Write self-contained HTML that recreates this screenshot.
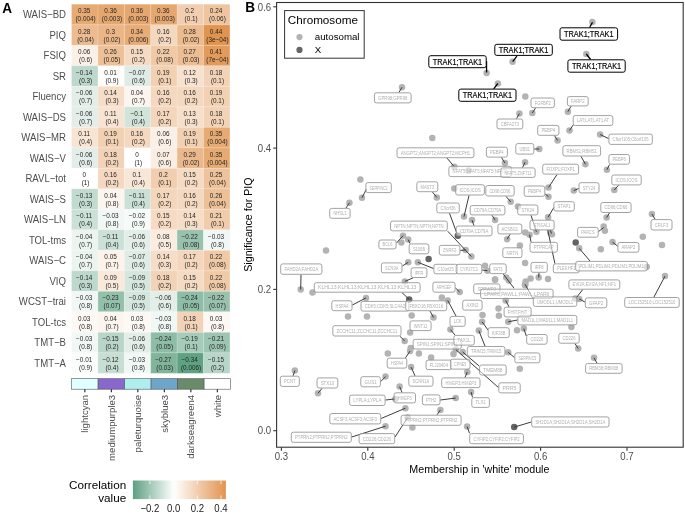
<!DOCTYPE html><html><head><meta charset="utf-8"><style>html,body{margin:0;padding:0;background:#fff;width:685px;height:514px;overflow:hidden}svg{display:block;will-change:transform}text{font-family:'Liberation Sans',sans-serif}</style></head><body>
<svg width="685" height="514" viewBox="0 0 685 514">
<rect width="685" height="514" fill="#fff"/>
<text transform="translate(2.3,12.6) scale(1,1.1)" font-size="13.6" font-weight="bold" fill="#000">A</text>
<rect x="71.60" y="4.30" width="26.37" height="20.50" fill="#E7AA73"/>
<rect x="97.97" y="4.30" width="26.37" height="20.50" fill="#E6A76F"/>
<rect x="124.34" y="4.30" width="26.37" height="20.50" fill="#E6A76F"/>
<rect x="150.71" y="4.30" width="26.37" height="20.50" fill="#E6A76F"/>
<rect x="177.08" y="4.30" width="26.37" height="20.50" fill="#F1CEAF"/>
<rect x="203.45" y="4.30" width="26.37" height="20.50" fill="#EFC59F"/>
<rect x="71.60" y="24.80" width="26.37" height="20.50" fill="#ECBB8F"/>
<rect x="97.97" y="24.80" width="26.37" height="20.50" fill="#EBB687"/>
<rect x="124.34" y="24.80" width="26.37" height="20.50" fill="#E8AC77"/>
<rect x="150.71" y="24.80" width="26.37" height="20.50" fill="#F4D8BF"/>
<rect x="177.08" y="24.80" width="26.37" height="20.50" fill="#ECBB8F"/>
<rect x="203.45" y="24.80" width="26.37" height="20.50" fill="#E1944F"/>
<rect x="71.60" y="45.30" width="26.37" height="20.50" fill="#FBF0E7"/>
<rect x="97.97" y="45.30" width="26.37" height="20.50" fill="#EDC097"/>
<rect x="124.34" y="45.30" width="26.37" height="20.50" fill="#F5DBC3"/>
<rect x="150.71" y="45.30" width="26.37" height="20.50" fill="#F0CAA7"/>
<rect x="177.08" y="45.30" width="26.37" height="20.50" fill="#EDBD93"/>
<rect x="203.45" y="45.30" width="26.37" height="20.50" fill="#E39B5B"/>
<rect x="71.60" y="65.80" width="26.37" height="20.50" fill="#BDD8CC"/>
<rect x="97.97" y="65.80" width="26.37" height="20.50" fill="#FEFDFB"/>
<rect x="124.34" y="65.80" width="26.37" height="20.50" fill="#DEECE5"/>
<rect x="150.71" y="65.80" width="26.37" height="20.50" fill="#F2D1B3"/>
<rect x="177.08" y="65.80" width="26.37" height="20.50" fill="#F7E2CF"/>
<rect x="203.45" y="65.80" width="26.37" height="20.50" fill="#F3D3B7"/>
<rect x="71.60" y="86.30" width="26.37" height="20.50" fill="#E3EEE9"/>
<rect x="97.97" y="86.30" width="26.37" height="20.50" fill="#F5DDC7"/>
<rect x="124.34" y="86.30" width="26.37" height="20.50" fill="#FCF5EF"/>
<rect x="150.71" y="86.30" width="26.37" height="20.50" fill="#F4D8BF"/>
<rect x="177.08" y="86.30" width="26.37" height="20.50" fill="#F4D8BF"/>
<rect x="203.45" y="86.30" width="26.37" height="20.50" fill="#F2D1B3"/>
<rect x="71.60" y="106.80" width="26.37" height="20.50" fill="#E3EEE9"/>
<rect x="97.97" y="106.80" width="26.37" height="20.50" fill="#F8E4D3"/>
<rect x="124.34" y="106.80" width="26.37" height="20.50" fill="#D0E4DA"/>
<rect x="150.71" y="106.80" width="26.37" height="20.50" fill="#F3D6BB"/>
<rect x="177.08" y="106.80" width="26.37" height="20.50" fill="#F6DFCB"/>
<rect x="203.45" y="106.80" width="26.37" height="20.50" fill="#F3D3B7"/>
<rect x="71.60" y="127.30" width="26.37" height="20.50" fill="#F8E4D3"/>
<rect x="97.97" y="127.30" width="26.37" height="20.50" fill="#F2D1B3"/>
<rect x="124.34" y="127.30" width="26.37" height="20.50" fill="#F4D8BF"/>
<rect x="150.71" y="127.30" width="26.37" height="20.50" fill="#FBF0E7"/>
<rect x="177.08" y="127.30" width="26.37" height="20.50" fill="#F2D1B3"/>
<rect x="203.45" y="127.30" width="26.37" height="20.50" fill="#E7AA73"/>
<rect x="71.60" y="147.80" width="26.37" height="20.50" fill="#E3EEE9"/>
<rect x="97.97" y="147.80" width="26.37" height="20.50" fill="#F3D3B7"/>
<rect x="124.34" y="147.80" width="26.37" height="20.50" fill="#FFFFFF"/>
<rect x="150.71" y="147.80" width="26.37" height="20.50" fill="#FAEEE3"/>
<rect x="177.08" y="147.80" width="26.37" height="20.50" fill="#EBB88B"/>
<rect x="203.45" y="147.80" width="26.37" height="20.50" fill="#E7AA73"/>
<rect x="71.60" y="168.30" width="26.37" height="20.50" fill="#FFFFFF"/>
<rect x="97.97" y="168.30" width="26.37" height="20.50" fill="#F4D8BF"/>
<rect x="124.34" y="168.30" width="26.37" height="20.50" fill="#F8E7D7"/>
<rect x="150.71" y="168.30" width="26.37" height="20.50" fill="#F1CEAF"/>
<rect x="177.08" y="168.30" width="26.37" height="20.50" fill="#F5DBC3"/>
<rect x="203.45" y="168.30" width="26.37" height="20.50" fill="#EEC29B"/>
<rect x="71.60" y="188.80" width="26.37" height="20.50" fill="#C2DBCF"/>
<rect x="97.97" y="188.80" width="26.37" height="20.50" fill="#FCF5EF"/>
<rect x="124.34" y="188.80" width="26.37" height="20.50" fill="#CBE1D7"/>
<rect x="150.71" y="188.80" width="26.37" height="20.50" fill="#F3D6BB"/>
<rect x="177.08" y="188.80" width="26.37" height="20.50" fill="#F4D8BF"/>
<rect x="203.45" y="188.80" width="26.37" height="20.50" fill="#EDC097"/>
<rect x="71.60" y="209.30" width="26.37" height="20.50" fill="#CBE1D7"/>
<rect x="97.97" y="209.30" width="26.37" height="20.50" fill="#F1F7F4"/>
<rect x="124.34" y="209.30" width="26.37" height="20.50" fill="#F6FAF8"/>
<rect x="150.71" y="209.30" width="26.37" height="20.50" fill="#F5DBC3"/>
<rect x="177.08" y="209.30" width="26.37" height="20.50" fill="#F5DDC7"/>
<rect x="203.45" y="209.30" width="26.37" height="20.50" fill="#F1CCAB"/>
<rect x="71.60" y="229.80" width="26.37" height="20.50" fill="#ECF4F0"/>
<rect x="97.97" y="229.80" width="26.37" height="20.50" fill="#CBE1D7"/>
<rect x="124.34" y="229.80" width="26.37" height="20.50" fill="#E3EEE9"/>
<rect x="150.71" y="229.80" width="26.37" height="20.50" fill="#FAECDF"/>
<rect x="177.08" y="229.80" width="26.37" height="20.50" fill="#98C2AE"/>
<rect x="203.45" y="229.80" width="26.37" height="20.50" fill="#F1F7F4"/>
<rect x="71.60" y="250.30" width="26.37" height="20.50" fill="#ECF4F0"/>
<rect x="97.97" y="250.30" width="26.37" height="20.50" fill="#FCF3EB"/>
<rect x="124.34" y="250.30" width="26.37" height="20.50" fill="#DEECE5"/>
<rect x="150.71" y="250.30" width="26.37" height="20.50" fill="#F5DDC7"/>
<rect x="177.08" y="250.30" width="26.37" height="20.50" fill="#F3D6BB"/>
<rect x="203.45" y="250.30" width="26.37" height="20.50" fill="#F0CAA7"/>
<rect x="71.60" y="270.80" width="26.37" height="20.50" fill="#BDD8CC"/>
<rect x="97.97" y="270.80" width="26.37" height="20.50" fill="#F9E9DB"/>
<rect x="124.34" y="270.80" width="26.37" height="20.50" fill="#D5E6DE"/>
<rect x="150.71" y="270.80" width="26.37" height="20.50" fill="#F3D3B7"/>
<rect x="177.08" y="270.80" width="26.37" height="20.50" fill="#F5DBC3"/>
<rect x="203.45" y="270.80" width="26.37" height="20.50" fill="#F0CAA7"/>
<rect x="71.60" y="291.30" width="26.37" height="20.50" fill="#F1F7F4"/>
<rect x="97.97" y="291.30" width="26.37" height="20.50" fill="#93C0AB"/>
<rect x="124.34" y="291.30" width="26.37" height="20.50" fill="#D5E6DE"/>
<rect x="150.71" y="291.30" width="26.37" height="20.50" fill="#E3EEE9"/>
<rect x="177.08" y="291.30" width="26.37" height="20.50" fill="#8EBDA7"/>
<rect x="203.45" y="291.30" width="26.37" height="20.50" fill="#98C2AE"/>
<rect x="71.60" y="311.80" width="26.37" height="20.50" fill="#FDF8F3"/>
<rect x="97.97" y="311.80" width="26.37" height="20.50" fill="#FCF5EF"/>
<rect x="124.34" y="311.80" width="26.37" height="20.50" fill="#FDF8F3"/>
<rect x="150.71" y="311.80" width="26.37" height="20.50" fill="#F1F7F4"/>
<rect x="177.08" y="311.80" width="26.37" height="20.50" fill="#F3D3B7"/>
<rect x="203.45" y="311.80" width="26.37" height="20.50" fill="#FDF8F3"/>
<rect x="71.60" y="332.30" width="26.37" height="20.50" fill="#F1F7F4"/>
<rect x="97.97" y="332.30" width="26.37" height="20.50" fill="#B8D6C8"/>
<rect x="124.34" y="332.30" width="26.37" height="20.50" fill="#E3EEE9"/>
<rect x="150.71" y="332.30" width="26.37" height="20.50" fill="#8EBDA7"/>
<rect x="177.08" y="332.30" width="26.37" height="20.50" fill="#A6CBB9"/>
<rect x="203.45" y="332.30" width="26.37" height="20.50" fill="#9CC5B2"/>
<rect x="71.60" y="352.80" width="26.37" height="20.50" fill="#FAFCFB"/>
<rect x="97.97" y="352.80" width="26.37" height="20.50" fill="#C7DED3"/>
<rect x="124.34" y="352.80" width="26.37" height="20.50" fill="#F1F7F4"/>
<rect x="150.71" y="352.80" width="26.37" height="20.50" fill="#80B59C"/>
<rect x="177.08" y="352.80" width="26.37" height="20.50" fill="#5FA283"/>
<rect x="203.45" y="352.80" width="26.37" height="20.50" fill="#B8D6C8"/>
<text transform="translate(84.19,13.00) scale(1,1)" font-size="6.4" fill="#262626" text-anchor="middle">0.35</text>
<text transform="translate(85.58,21.35) scale(1,1)" font-size="6.4" fill="#262626" text-anchor="middle">(0.004)</text>
<text transform="translate(110.56,13.00) scale(1,1)" font-size="6.4" fill="#262626" text-anchor="middle">0.36</text>
<text transform="translate(111.95,21.35) scale(1,1)" font-size="6.4" fill="#262626" text-anchor="middle">(0.003)</text>
<text transform="translate(136.93,13.00) scale(1,1)" font-size="6.4" fill="#262626" text-anchor="middle">0.36</text>
<text transform="translate(138.33,21.35) scale(1,1)" font-size="6.4" fill="#262626" text-anchor="middle">(0.003)</text>
<text transform="translate(163.29,13.00) scale(1,1)" font-size="6.4" fill="#262626" text-anchor="middle">0.36</text>
<text transform="translate(164.69,21.35) scale(1,1)" font-size="6.4" fill="#262626" text-anchor="middle">(0.003)</text>
<text transform="translate(189.66,13.00) scale(1,1)" font-size="6.4" fill="#262626" text-anchor="middle">0.2</text>
<text transform="translate(191.06,21.35) scale(1,1)" font-size="6.4" fill="#262626" text-anchor="middle">(0.1)</text>
<text transform="translate(216.03,13.00) scale(1,1)" font-size="6.4" fill="#262626" text-anchor="middle">0.24</text>
<text transform="translate(217.44,21.35) scale(1,1)" font-size="6.4" fill="#262626" text-anchor="middle">(0.06)</text>
<text transform="translate(66,18.05) scale(1,1.09)" font-size="9.6" fill="#4d4d4d" text-anchor="end">WAIS−BD</text>
<text transform="translate(84.19,33.50) scale(1,1)" font-size="6.4" fill="#262626" text-anchor="middle">0.28</text>
<text transform="translate(85.58,41.85) scale(1,1)" font-size="6.4" fill="#262626" text-anchor="middle">(0.04)</text>
<text transform="translate(110.56,33.50) scale(1,1)" font-size="6.4" fill="#262626" text-anchor="middle">0.3</text>
<text transform="translate(111.95,41.85) scale(1,1)" font-size="6.4" fill="#262626" text-anchor="middle">(0.02)</text>
<text transform="translate(136.93,33.50) scale(1,1)" font-size="6.4" fill="#262626" text-anchor="middle">0.34</text>
<text transform="translate(138.33,41.85) scale(1,1)" font-size="6.4" fill="#262626" text-anchor="middle">(0.006)</text>
<text transform="translate(163.29,33.50) scale(1,1)" font-size="6.4" fill="#262626" text-anchor="middle">0.16</text>
<text transform="translate(164.69,41.85) scale(1,1)" font-size="6.4" fill="#262626" text-anchor="middle">(0.2)</text>
<text transform="translate(189.66,33.50) scale(1,1)" font-size="6.4" fill="#262626" text-anchor="middle">0.28</text>
<text transform="translate(191.06,41.85) scale(1,1)" font-size="6.4" fill="#262626" text-anchor="middle">(0.02)</text>
<text transform="translate(216.03,33.50) scale(1,1)" font-size="6.4" fill="#262626" text-anchor="middle">0.44</text>
<text transform="translate(217.44,41.85) scale(1,1)" font-size="6.4" fill="#262626" text-anchor="middle">(3e−04)</text>
<text transform="translate(66,38.55) scale(1,1.09)" font-size="9.6" fill="#4d4d4d" text-anchor="end">PIQ</text>
<text transform="translate(84.19,54.00) scale(1,1)" font-size="6.4" fill="#262626" text-anchor="middle">0.06</text>
<text transform="translate(85.58,62.35) scale(1,1)" font-size="6.4" fill="#262626" text-anchor="middle">(0.6)</text>
<text transform="translate(110.56,54.00) scale(1,1)" font-size="6.4" fill="#262626" text-anchor="middle">0.26</text>
<text transform="translate(111.95,62.35) scale(1,1)" font-size="6.4" fill="#262626" text-anchor="middle">(0.05)</text>
<text transform="translate(136.93,54.00) scale(1,1)" font-size="6.4" fill="#262626" text-anchor="middle">0.15</text>
<text transform="translate(138.33,62.35) scale(1,1)" font-size="6.4" fill="#262626" text-anchor="middle">(0.2)</text>
<text transform="translate(163.29,54.00) scale(1,1)" font-size="6.4" fill="#262626" text-anchor="middle">0.22</text>
<text transform="translate(164.69,62.35) scale(1,1)" font-size="6.4" fill="#262626" text-anchor="middle">(0.08)</text>
<text transform="translate(189.66,54.00) scale(1,1)" font-size="6.4" fill="#262626" text-anchor="middle">0.27</text>
<text transform="translate(191.06,62.35) scale(1,1)" font-size="6.4" fill="#262626" text-anchor="middle">(0.03)</text>
<text transform="translate(216.03,54.00) scale(1,1)" font-size="6.4" fill="#262626" text-anchor="middle">0.41</text>
<text transform="translate(217.44,62.35) scale(1,1)" font-size="6.4" fill="#262626" text-anchor="middle">(7e−04)</text>
<text transform="translate(66,59.05) scale(1,1.09)" font-size="9.6" fill="#4d4d4d" text-anchor="end">FSIQ</text>
<text transform="translate(84.19,74.50) scale(1,1)" font-size="6.4" fill="#262626" text-anchor="middle">−0.14</text>
<text transform="translate(85.58,82.85) scale(1,1)" font-size="6.4" fill="#262626" text-anchor="middle">(0.3)</text>
<text transform="translate(110.56,74.50) scale(1,1)" font-size="6.4" fill="#262626" text-anchor="middle">0.01</text>
<text transform="translate(111.95,82.85) scale(1,1)" font-size="6.4" fill="#262626" text-anchor="middle">(0.9)</text>
<text transform="translate(136.93,74.50) scale(1,1)" font-size="6.4" fill="#262626" text-anchor="middle">−0.07</text>
<text transform="translate(138.33,82.85) scale(1,1)" font-size="6.4" fill="#262626" text-anchor="middle">(0.6)</text>
<text transform="translate(163.29,74.50) scale(1,1)" font-size="6.4" fill="#262626" text-anchor="middle">0.19</text>
<text transform="translate(164.69,82.85) scale(1,1)" font-size="6.4" fill="#262626" text-anchor="middle">(0.1)</text>
<text transform="translate(189.66,74.50) scale(1,1)" font-size="6.4" fill="#262626" text-anchor="middle">0.12</text>
<text transform="translate(191.06,82.85) scale(1,1)" font-size="6.4" fill="#262626" text-anchor="middle">(0.3)</text>
<text transform="translate(216.03,74.50) scale(1,1)" font-size="6.4" fill="#262626" text-anchor="middle">0.18</text>
<text transform="translate(217.44,82.85) scale(1,1)" font-size="6.4" fill="#262626" text-anchor="middle">(0.1)</text>
<text transform="translate(66,79.55) scale(1,1.09)" font-size="9.6" fill="#4d4d4d" text-anchor="end">SR</text>
<text transform="translate(84.19,95.00) scale(1,1)" font-size="6.4" fill="#262626" text-anchor="middle">−0.06</text>
<text transform="translate(85.58,103.35) scale(1,1)" font-size="6.4" fill="#262626" text-anchor="middle">(0.7)</text>
<text transform="translate(110.56,95.00) scale(1,1)" font-size="6.4" fill="#262626" text-anchor="middle">0.14</text>
<text transform="translate(111.95,103.35) scale(1,1)" font-size="6.4" fill="#262626" text-anchor="middle">(0.3)</text>
<text transform="translate(136.93,95.00) scale(1,1)" font-size="6.4" fill="#262626" text-anchor="middle">0.04</text>
<text transform="translate(138.33,103.35) scale(1,1)" font-size="6.4" fill="#262626" text-anchor="middle">(0.7)</text>
<text transform="translate(163.29,95.00) scale(1,1)" font-size="6.4" fill="#262626" text-anchor="middle">0.16</text>
<text transform="translate(164.69,103.35) scale(1,1)" font-size="6.4" fill="#262626" text-anchor="middle">(0.2)</text>
<text transform="translate(189.66,95.00) scale(1,1)" font-size="6.4" fill="#262626" text-anchor="middle">0.16</text>
<text transform="translate(191.06,103.35) scale(1,1)" font-size="6.4" fill="#262626" text-anchor="middle">(0.2)</text>
<text transform="translate(216.03,95.00) scale(1,1)" font-size="6.4" fill="#262626" text-anchor="middle">0.19</text>
<text transform="translate(217.44,103.35) scale(1,1)" font-size="6.4" fill="#262626" text-anchor="middle">(0.1)</text>
<text transform="translate(66,100.05) scale(1,1.09)" font-size="9.6" fill="#4d4d4d" text-anchor="end">Fluency</text>
<text transform="translate(84.19,115.50) scale(1,1)" font-size="6.4" fill="#262626" text-anchor="middle">−0.06</text>
<text transform="translate(85.58,123.85) scale(1,1)" font-size="6.4" fill="#262626" text-anchor="middle">(0.7)</text>
<text transform="translate(110.56,115.50) scale(1,1)" font-size="6.4" fill="#262626" text-anchor="middle">0.11</text>
<text transform="translate(111.95,123.85) scale(1,1)" font-size="6.4" fill="#262626" text-anchor="middle">(0.4)</text>
<text transform="translate(136.93,115.50) scale(1,1)" font-size="6.4" fill="#262626" text-anchor="middle">−0.1</text>
<text transform="translate(138.33,123.85) scale(1,1)" font-size="6.4" fill="#262626" text-anchor="middle">(0.4)</text>
<text transform="translate(163.29,115.50) scale(1,1)" font-size="6.4" fill="#262626" text-anchor="middle">0.17</text>
<text transform="translate(164.69,123.85) scale(1,1)" font-size="6.4" fill="#262626" text-anchor="middle">(0.2)</text>
<text transform="translate(189.66,115.50) scale(1,1)" font-size="6.4" fill="#262626" text-anchor="middle">0.13</text>
<text transform="translate(191.06,123.85) scale(1,1)" font-size="6.4" fill="#262626" text-anchor="middle">(0.3)</text>
<text transform="translate(216.03,115.50) scale(1,1)" font-size="6.4" fill="#262626" text-anchor="middle">0.18</text>
<text transform="translate(217.44,123.85) scale(1,1)" font-size="6.4" fill="#262626" text-anchor="middle">(0.1)</text>
<text transform="translate(66,120.55) scale(1,1.09)" font-size="9.6" fill="#4d4d4d" text-anchor="end">WAIS−DS</text>
<text transform="translate(84.19,136.00) scale(1,1)" font-size="6.4" fill="#262626" text-anchor="middle">0.11</text>
<text transform="translate(85.58,144.35) scale(1,1)" font-size="6.4" fill="#262626" text-anchor="middle">(0.4)</text>
<text transform="translate(110.56,136.00) scale(1,1)" font-size="6.4" fill="#262626" text-anchor="middle">0.19</text>
<text transform="translate(111.95,144.35) scale(1,1)" font-size="6.4" fill="#262626" text-anchor="middle">(0.1)</text>
<text transform="translate(136.93,136.00) scale(1,1)" font-size="6.4" fill="#262626" text-anchor="middle">0.16</text>
<text transform="translate(138.33,144.35) scale(1,1)" font-size="6.4" fill="#262626" text-anchor="middle">(0.2)</text>
<text transform="translate(163.29,136.00) scale(1,1)" font-size="6.4" fill="#262626" text-anchor="middle">0.06</text>
<text transform="translate(164.69,144.35) scale(1,1)" font-size="6.4" fill="#262626" text-anchor="middle">(0.6)</text>
<text transform="translate(189.66,136.00) scale(1,1)" font-size="6.4" fill="#262626" text-anchor="middle">0.19</text>
<text transform="translate(191.06,144.35) scale(1,1)" font-size="6.4" fill="#262626" text-anchor="middle">(0.1)</text>
<text transform="translate(216.03,136.00) scale(1,1)" font-size="6.4" fill="#262626" text-anchor="middle">0.35</text>
<text transform="translate(217.44,144.35) scale(1,1)" font-size="6.4" fill="#262626" text-anchor="middle">(0.004)</text>
<text transform="translate(66,141.05) scale(1,1.09)" font-size="9.6" fill="#4d4d4d" text-anchor="end">WAIS−MR</text>
<text transform="translate(84.19,156.50) scale(1,1)" font-size="6.4" fill="#262626" text-anchor="middle">−0.06</text>
<text transform="translate(85.58,164.85) scale(1,1)" font-size="6.4" fill="#262626" text-anchor="middle">(0.6)</text>
<text transform="translate(110.56,156.50) scale(1,1)" font-size="6.4" fill="#262626" text-anchor="middle">0.18</text>
<text transform="translate(111.95,164.85) scale(1,1)" font-size="6.4" fill="#262626" text-anchor="middle">(0.2)</text>
<text transform="translate(136.93,156.50) scale(1,1)" font-size="6.4" fill="#262626" text-anchor="middle">0</text>
<text transform="translate(138.33,164.85) scale(1,1)" font-size="6.4" fill="#262626" text-anchor="middle">(1)</text>
<text transform="translate(163.29,156.50) scale(1,1)" font-size="6.4" fill="#262626" text-anchor="middle">0.07</text>
<text transform="translate(164.69,164.85) scale(1,1)" font-size="6.4" fill="#262626" text-anchor="middle">(0.6)</text>
<text transform="translate(189.66,156.50) scale(1,1)" font-size="6.4" fill="#262626" text-anchor="middle">0.29</text>
<text transform="translate(191.06,164.85) scale(1,1)" font-size="6.4" fill="#262626" text-anchor="middle">(0.02)</text>
<text transform="translate(216.03,156.50) scale(1,1)" font-size="6.4" fill="#262626" text-anchor="middle">0.35</text>
<text transform="translate(217.44,164.85) scale(1,1)" font-size="6.4" fill="#262626" text-anchor="middle">(0.004)</text>
<text transform="translate(66,161.55) scale(1,1.09)" font-size="9.6" fill="#4d4d4d" text-anchor="end">WAIS−V</text>
<text transform="translate(84.19,177.00) scale(1,1)" font-size="6.4" fill="#262626" text-anchor="middle">0</text>
<text transform="translate(85.58,185.35) scale(1,1)" font-size="6.4" fill="#262626" text-anchor="middle">(1)</text>
<text transform="translate(110.56,177.00) scale(1,1)" font-size="6.4" fill="#262626" text-anchor="middle">0.16</text>
<text transform="translate(111.95,185.35) scale(1,1)" font-size="6.4" fill="#262626" text-anchor="middle">(0.2)</text>
<text transform="translate(136.93,177.00) scale(1,1)" font-size="6.4" fill="#262626" text-anchor="middle">0.1</text>
<text transform="translate(138.33,185.35) scale(1,1)" font-size="6.4" fill="#262626" text-anchor="middle">(0.4)</text>
<text transform="translate(163.29,177.00) scale(1,1)" font-size="6.4" fill="#262626" text-anchor="middle">0.2</text>
<text transform="translate(164.69,185.35) scale(1,1)" font-size="6.4" fill="#262626" text-anchor="middle">(0.1)</text>
<text transform="translate(189.66,177.00) scale(1,1)" font-size="6.4" fill="#262626" text-anchor="middle">0.15</text>
<text transform="translate(191.06,185.35) scale(1,1)" font-size="6.4" fill="#262626" text-anchor="middle">(0.2)</text>
<text transform="translate(216.03,177.00) scale(1,1)" font-size="6.4" fill="#262626" text-anchor="middle">0.25</text>
<text transform="translate(217.44,185.35) scale(1,1)" font-size="6.4" fill="#262626" text-anchor="middle">(0.04)</text>
<text transform="translate(66,182.05) scale(1,1.09)" font-size="9.6" fill="#4d4d4d" text-anchor="end">RAVL−tot</text>
<text transform="translate(84.19,197.50) scale(1,1)" font-size="6.4" fill="#262626" text-anchor="middle">−0.13</text>
<text transform="translate(85.58,205.85) scale(1,1)" font-size="6.4" fill="#262626" text-anchor="middle">(0.3)</text>
<text transform="translate(110.56,197.50) scale(1,1)" font-size="6.4" fill="#262626" text-anchor="middle">0.04</text>
<text transform="translate(111.95,205.85) scale(1,1)" font-size="6.4" fill="#262626" text-anchor="middle">(0.8)</text>
<text transform="translate(136.93,197.50) scale(1,1)" font-size="6.4" fill="#262626" text-anchor="middle">−0.11</text>
<text transform="translate(138.33,205.85) scale(1,1)" font-size="6.4" fill="#262626" text-anchor="middle">(0.4)</text>
<text transform="translate(163.29,197.50) scale(1,1)" font-size="6.4" fill="#262626" text-anchor="middle">0.17</text>
<text transform="translate(164.69,205.85) scale(1,1)" font-size="6.4" fill="#262626" text-anchor="middle">(0.2)</text>
<text transform="translate(189.66,197.50) scale(1,1)" font-size="6.4" fill="#262626" text-anchor="middle">0.16</text>
<text transform="translate(191.06,205.85) scale(1,1)" font-size="6.4" fill="#262626" text-anchor="middle">(0.2)</text>
<text transform="translate(216.03,197.50) scale(1,1)" font-size="6.4" fill="#262626" text-anchor="middle">0.26</text>
<text transform="translate(217.44,205.85) scale(1,1)" font-size="6.4" fill="#262626" text-anchor="middle">(0.04)</text>
<text transform="translate(66,202.55) scale(1,1.09)" font-size="9.6" fill="#4d4d4d" text-anchor="end">WAIS−S</text>
<text transform="translate(84.19,218.00) scale(1,1)" font-size="6.4" fill="#262626" text-anchor="middle">−0.11</text>
<text transform="translate(85.58,226.35) scale(1,1)" font-size="6.4" fill="#262626" text-anchor="middle">(0.4)</text>
<text transform="translate(110.56,218.00) scale(1,1)" font-size="6.4" fill="#262626" text-anchor="middle">−0.03</text>
<text transform="translate(111.95,226.35) scale(1,1)" font-size="6.4" fill="#262626" text-anchor="middle">(0.8)</text>
<text transform="translate(136.93,218.00) scale(1,1)" font-size="6.4" fill="#262626" text-anchor="middle">−0.02</text>
<text transform="translate(138.33,226.35) scale(1,1)" font-size="6.4" fill="#262626" text-anchor="middle">(0.9)</text>
<text transform="translate(163.29,218.00) scale(1,1)" font-size="6.4" fill="#262626" text-anchor="middle">0.15</text>
<text transform="translate(164.69,226.35) scale(1,1)" font-size="6.4" fill="#262626" text-anchor="middle">(0.2)</text>
<text transform="translate(189.66,218.00) scale(1,1)" font-size="6.4" fill="#262626" text-anchor="middle">0.14</text>
<text transform="translate(191.06,226.35) scale(1,1)" font-size="6.4" fill="#262626" text-anchor="middle">(0.3)</text>
<text transform="translate(216.03,218.00) scale(1,1)" font-size="6.4" fill="#262626" text-anchor="middle">0.21</text>
<text transform="translate(217.44,226.35) scale(1,1)" font-size="6.4" fill="#262626" text-anchor="middle">(0.1)</text>
<text transform="translate(66,223.05) scale(1,1.09)" font-size="9.6" fill="#4d4d4d" text-anchor="end">WAIS−LN</text>
<text transform="translate(84.19,238.50) scale(1,1)" font-size="6.4" fill="#262626" text-anchor="middle">−0.04</text>
<text transform="translate(85.58,246.85) scale(1,1)" font-size="6.4" fill="#262626" text-anchor="middle">(0.7)</text>
<text transform="translate(110.56,238.50) scale(1,1)" font-size="6.4" fill="#262626" text-anchor="middle">−0.11</text>
<text transform="translate(111.95,246.85) scale(1,1)" font-size="6.4" fill="#262626" text-anchor="middle">(0.4)</text>
<text transform="translate(136.93,238.50) scale(1,1)" font-size="6.4" fill="#262626" text-anchor="middle">−0.06</text>
<text transform="translate(138.33,246.85) scale(1,1)" font-size="6.4" fill="#262626" text-anchor="middle">(0.6)</text>
<text transform="translate(163.29,238.50) scale(1,1)" font-size="6.4" fill="#262626" text-anchor="middle">0.08</text>
<text transform="translate(164.69,246.85) scale(1,1)" font-size="6.4" fill="#262626" text-anchor="middle">(0.5)</text>
<text transform="translate(189.66,238.50) scale(1,1)" font-size="6.4" fill="#262626" text-anchor="middle">−0.22</text>
<text transform="translate(191.06,246.85) scale(1,1)" font-size="6.4" fill="#262626" text-anchor="middle">(0.08)</text>
<text transform="translate(216.03,238.50) scale(1,1)" font-size="6.4" fill="#262626" text-anchor="middle">−0.03</text>
<text transform="translate(217.44,246.85) scale(1,1)" font-size="6.4" fill="#262626" text-anchor="middle">(0.8)</text>
<text transform="translate(66,243.55) scale(1,1.09)" font-size="9.6" fill="#4d4d4d" text-anchor="end">TOL-tms</text>
<text transform="translate(84.19,259.00) scale(1,1)" font-size="6.4" fill="#262626" text-anchor="middle">−0.04</text>
<text transform="translate(85.58,267.35) scale(1,1)" font-size="6.4" fill="#262626" text-anchor="middle">(0.7)</text>
<text transform="translate(110.56,259.00) scale(1,1)" font-size="6.4" fill="#262626" text-anchor="middle">0.05</text>
<text transform="translate(111.95,267.35) scale(1,1)" font-size="6.4" fill="#262626" text-anchor="middle">(0.7)</text>
<text transform="translate(136.93,259.00) scale(1,1)" font-size="6.4" fill="#262626" text-anchor="middle">−0.07</text>
<text transform="translate(138.33,267.35) scale(1,1)" font-size="6.4" fill="#262626" text-anchor="middle">(0.6)</text>
<text transform="translate(163.29,259.00) scale(1,1)" font-size="6.4" fill="#262626" text-anchor="middle">0.14</text>
<text transform="translate(164.69,267.35) scale(1,1)" font-size="6.4" fill="#262626" text-anchor="middle">(0.3)</text>
<text transform="translate(189.66,259.00) scale(1,1)" font-size="6.4" fill="#262626" text-anchor="middle">0.17</text>
<text transform="translate(191.06,267.35) scale(1,1)" font-size="6.4" fill="#262626" text-anchor="middle">(0.2)</text>
<text transform="translate(216.03,259.00) scale(1,1)" font-size="6.4" fill="#262626" text-anchor="middle">0.22</text>
<text transform="translate(217.44,267.35) scale(1,1)" font-size="6.4" fill="#262626" text-anchor="middle">(0.08)</text>
<text transform="translate(66,264.05) scale(1,1.09)" font-size="9.6" fill="#4d4d4d" text-anchor="end">WAIS−C</text>
<text transform="translate(84.19,279.50) scale(1,1)" font-size="6.4" fill="#262626" text-anchor="middle">−0.14</text>
<text transform="translate(85.58,287.85) scale(1,1)" font-size="6.4" fill="#262626" text-anchor="middle">(0.3)</text>
<text transform="translate(110.56,279.50) scale(1,1)" font-size="6.4" fill="#262626" text-anchor="middle">0.09</text>
<text transform="translate(111.95,287.85) scale(1,1)" font-size="6.4" fill="#262626" text-anchor="middle">(0.5)</text>
<text transform="translate(136.93,279.50) scale(1,1)" font-size="6.4" fill="#262626" text-anchor="middle">−0.09</text>
<text transform="translate(138.33,287.85) scale(1,1)" font-size="6.4" fill="#262626" text-anchor="middle">(0.5)</text>
<text transform="translate(163.29,279.50) scale(1,1)" font-size="6.4" fill="#262626" text-anchor="middle">0.18</text>
<text transform="translate(164.69,287.85) scale(1,1)" font-size="6.4" fill="#262626" text-anchor="middle">(0.2)</text>
<text transform="translate(189.66,279.50) scale(1,1)" font-size="6.4" fill="#262626" text-anchor="middle">0.15</text>
<text transform="translate(191.06,287.85) scale(1,1)" font-size="6.4" fill="#262626" text-anchor="middle">(0.2)</text>
<text transform="translate(216.03,279.50) scale(1,1)" font-size="6.4" fill="#262626" text-anchor="middle">0.22</text>
<text transform="translate(217.44,287.85) scale(1,1)" font-size="6.4" fill="#262626" text-anchor="middle">(0.08)</text>
<text transform="translate(66,284.55) scale(1,1.09)" font-size="9.6" fill="#4d4d4d" text-anchor="end">VIQ</text>
<text transform="translate(84.19,300.00) scale(1,1)" font-size="6.4" fill="#262626" text-anchor="middle">−0.03</text>
<text transform="translate(85.58,308.35) scale(1,1)" font-size="6.4" fill="#262626" text-anchor="middle">(0.8)</text>
<text transform="translate(110.56,300.00) scale(1,1)" font-size="6.4" fill="#262626" text-anchor="middle">−0.23</text>
<text transform="translate(111.95,308.35) scale(1,1)" font-size="6.4" fill="#262626" text-anchor="middle">(0.07)</text>
<text transform="translate(136.93,300.00) scale(1,1)" font-size="6.4" fill="#262626" text-anchor="middle">−0.09</text>
<text transform="translate(138.33,308.35) scale(1,1)" font-size="6.4" fill="#262626" text-anchor="middle">(0.5)</text>
<text transform="translate(163.29,300.00) scale(1,1)" font-size="6.4" fill="#262626" text-anchor="middle">−0.06</text>
<text transform="translate(164.69,308.35) scale(1,1)" font-size="6.4" fill="#262626" text-anchor="middle">(0.6)</text>
<text transform="translate(189.66,300.00) scale(1,1)" font-size="6.4" fill="#262626" text-anchor="middle">−0.24</text>
<text transform="translate(191.06,308.35) scale(1,1)" font-size="6.4" fill="#262626" text-anchor="middle">(0.05)</text>
<text transform="translate(216.03,300.00) scale(1,1)" font-size="6.4" fill="#262626" text-anchor="middle">−0.22</text>
<text transform="translate(217.44,308.35) scale(1,1)" font-size="6.4" fill="#262626" text-anchor="middle">(0.07)</text>
<text transform="translate(66,305.05) scale(1,1.09)" font-size="9.6" fill="#4d4d4d" text-anchor="end">WCST−trai</text>
<text transform="translate(84.19,320.50) scale(1,1)" font-size="6.4" fill="#262626" text-anchor="middle">0.03</text>
<text transform="translate(85.58,328.85) scale(1,1)" font-size="6.4" fill="#262626" text-anchor="middle">(0.8)</text>
<text transform="translate(110.56,320.50) scale(1,1)" font-size="6.4" fill="#262626" text-anchor="middle">0.04</text>
<text transform="translate(111.95,328.85) scale(1,1)" font-size="6.4" fill="#262626" text-anchor="middle">(0.7)</text>
<text transform="translate(136.93,320.50) scale(1,1)" font-size="6.4" fill="#262626" text-anchor="middle">0.03</text>
<text transform="translate(138.33,328.85) scale(1,1)" font-size="6.4" fill="#262626" text-anchor="middle">(0.8)</text>
<text transform="translate(163.29,320.50) scale(1,1)" font-size="6.4" fill="#262626" text-anchor="middle">−0.03</text>
<text transform="translate(164.69,328.85) scale(1,1)" font-size="6.4" fill="#262626" text-anchor="middle">(0.8)</text>
<text transform="translate(189.66,320.50) scale(1,1)" font-size="6.4" fill="#262626" text-anchor="middle">0.18</text>
<text transform="translate(191.06,328.85) scale(1,1)" font-size="6.4" fill="#262626" text-anchor="middle">(0.1)</text>
<text transform="translate(216.03,320.50) scale(1,1)" font-size="6.4" fill="#262626" text-anchor="middle">0.03</text>
<text transform="translate(217.44,328.85) scale(1,1)" font-size="6.4" fill="#262626" text-anchor="middle">(0.8)</text>
<text transform="translate(66,325.55) scale(1,1.09)" font-size="9.6" fill="#4d4d4d" text-anchor="end">TOL-tcs</text>
<text transform="translate(84.19,341.00) scale(1,1)" font-size="6.4" fill="#262626" text-anchor="middle">−0.03</text>
<text transform="translate(85.58,349.35) scale(1,1)" font-size="6.4" fill="#262626" text-anchor="middle">(0.8)</text>
<text transform="translate(110.56,341.00) scale(1,1)" font-size="6.4" fill="#262626" text-anchor="middle">−0.15</text>
<text transform="translate(111.95,349.35) scale(1,1)" font-size="6.4" fill="#262626" text-anchor="middle">(0.2)</text>
<text transform="translate(136.93,341.00) scale(1,1)" font-size="6.4" fill="#262626" text-anchor="middle">−0.06</text>
<text transform="translate(138.33,349.35) scale(1,1)" font-size="6.4" fill="#262626" text-anchor="middle">(0.6)</text>
<text transform="translate(163.29,341.00) scale(1,1)" font-size="6.4" fill="#262626" text-anchor="middle">−0.24</text>
<text transform="translate(164.69,349.35) scale(1,1)" font-size="6.4" fill="#262626" text-anchor="middle">(0.05)</text>
<text transform="translate(189.66,341.00) scale(1,1)" font-size="6.4" fill="#262626" text-anchor="middle">−0.19</text>
<text transform="translate(191.06,349.35) scale(1,1)" font-size="6.4" fill="#262626" text-anchor="middle">(0.1)</text>
<text transform="translate(216.03,341.00) scale(1,1)" font-size="6.4" fill="#262626" text-anchor="middle">−0.21</text>
<text transform="translate(217.44,349.35) scale(1,1)" font-size="6.4" fill="#262626" text-anchor="middle">(0.09)</text>
<text transform="translate(66,346.05) scale(1,1.09)" font-size="9.6" fill="#4d4d4d" text-anchor="end">TMT−B</text>
<text transform="translate(84.19,361.50) scale(1,1)" font-size="6.4" fill="#262626" text-anchor="middle">−0.01</text>
<text transform="translate(85.58,369.85) scale(1,1)" font-size="6.4" fill="#262626" text-anchor="middle">(0.9)</text>
<text transform="translate(110.56,361.50) scale(1,1)" font-size="6.4" fill="#262626" text-anchor="middle">−0.12</text>
<text transform="translate(111.95,369.85) scale(1,1)" font-size="6.4" fill="#262626" text-anchor="middle">(0.4)</text>
<text transform="translate(136.93,361.50) scale(1,1)" font-size="6.4" fill="#262626" text-anchor="middle">−0.03</text>
<text transform="translate(138.33,369.85) scale(1,1)" font-size="6.4" fill="#262626" text-anchor="middle">(0.8)</text>
<text transform="translate(163.29,361.50) scale(1,1)" font-size="6.4" fill="#262626" text-anchor="middle">−0.27</text>
<text transform="translate(164.69,369.85) scale(1,1)" font-size="6.4" fill="#262626" text-anchor="middle">(0.03)</text>
<text transform="translate(189.66,361.50) scale(1,1)" font-size="6.4" fill="#262626" text-anchor="middle">−0.34</text>
<text transform="translate(191.06,369.85) scale(1,1)" font-size="6.4" fill="#262626" text-anchor="middle">(0.006)</text>
<text transform="translate(216.03,361.50) scale(1,1)" font-size="6.4" fill="#262626" text-anchor="middle">−0.15</text>
<text transform="translate(217.44,369.85) scale(1,1)" font-size="6.4" fill="#262626" text-anchor="middle">(0.2)</text>
<text transform="translate(66,366.55) scale(1,1.09)" font-size="9.6" fill="#4d4d4d" text-anchor="end">TMT−A</text>
<line x1="97.97" y1="4.30" x2="97.97" y2="373.30" stroke="#fff" stroke-opacity="0.35" stroke-width="0.6"/>
<line x1="124.34" y1="4.30" x2="124.34" y2="373.30" stroke="#fff" stroke-opacity="0.35" stroke-width="0.6"/>
<line x1="150.71" y1="4.30" x2="150.71" y2="373.30" stroke="#fff" stroke-opacity="0.35" stroke-width="0.6"/>
<line x1="177.08" y1="4.30" x2="177.08" y2="373.30" stroke="#fff" stroke-opacity="0.35" stroke-width="0.6"/>
<line x1="203.45" y1="4.30" x2="203.45" y2="373.30" stroke="#fff" stroke-opacity="0.35" stroke-width="0.6"/>
<line x1="71.60" y1="24.80" x2="229.82" y2="24.80" stroke="#fff" stroke-opacity="0.35" stroke-width="0.6"/>
<line x1="71.60" y1="45.30" x2="229.82" y2="45.30" stroke="#fff" stroke-opacity="0.35" stroke-width="0.6"/>
<line x1="71.60" y1="65.80" x2="229.82" y2="65.80" stroke="#fff" stroke-opacity="0.35" stroke-width="0.6"/>
<line x1="71.60" y1="86.30" x2="229.82" y2="86.30" stroke="#fff" stroke-opacity="0.35" stroke-width="0.6"/>
<line x1="71.60" y1="106.80" x2="229.82" y2="106.80" stroke="#fff" stroke-opacity="0.35" stroke-width="0.6"/>
<line x1="71.60" y1="127.30" x2="229.82" y2="127.30" stroke="#fff" stroke-opacity="0.35" stroke-width="0.6"/>
<line x1="71.60" y1="147.80" x2="229.82" y2="147.80" stroke="#fff" stroke-opacity="0.35" stroke-width="0.6"/>
<line x1="71.60" y1="168.30" x2="229.82" y2="168.30" stroke="#fff" stroke-opacity="0.35" stroke-width="0.6"/>
<line x1="71.60" y1="188.80" x2="229.82" y2="188.80" stroke="#fff" stroke-opacity="0.35" stroke-width="0.6"/>
<line x1="71.60" y1="209.30" x2="229.82" y2="209.30" stroke="#fff" stroke-opacity="0.35" stroke-width="0.6"/>
<line x1="71.60" y1="229.80" x2="229.82" y2="229.80" stroke="#fff" stroke-opacity="0.35" stroke-width="0.6"/>
<line x1="71.60" y1="250.30" x2="229.82" y2="250.30" stroke="#fff" stroke-opacity="0.35" stroke-width="0.6"/>
<line x1="71.60" y1="270.80" x2="229.82" y2="270.80" stroke="#fff" stroke-opacity="0.35" stroke-width="0.6"/>
<line x1="71.60" y1="291.30" x2="229.82" y2="291.30" stroke="#fff" stroke-opacity="0.35" stroke-width="0.6"/>
<line x1="71.60" y1="311.80" x2="229.82" y2="311.80" stroke="#fff" stroke-opacity="0.35" stroke-width="0.6"/>
<line x1="71.60" y1="332.30" x2="229.82" y2="332.30" stroke="#fff" stroke-opacity="0.35" stroke-width="0.6"/>
<line x1="71.60" y1="352.80" x2="229.82" y2="352.80" stroke="#fff" stroke-opacity="0.35" stroke-width="0.6"/>
<rect x="71.60" y="378.70" width="26.50" height="10.50" fill="#E0FFFF" stroke="#555" stroke-width="0.6"/>
<line x1="84.85" y1="389.20" x2="84.85" y2="392.30" stroke="#222" stroke-width="1.1"/>
<text transform="translate(88.15,394.8) rotate(-90)" font-size="9.6" fill="#4d4d4d" text-anchor="end">lightcyan</text>
<rect x="98.10" y="378.70" width="26.50" height="10.50" fill="#8968CD" stroke="#555" stroke-width="0.6"/>
<line x1="111.35" y1="389.20" x2="111.35" y2="392.30" stroke="#222" stroke-width="1.1"/>
<text transform="translate(114.65,394.8) rotate(-90)" font-size="9.6" fill="#4d4d4d" text-anchor="end">mediumpurple3</text>
<rect x="124.60" y="378.70" width="26.50" height="10.50" fill="#AFEEEE" stroke="#555" stroke-width="0.6"/>
<line x1="137.85" y1="389.20" x2="137.85" y2="392.30" stroke="#222" stroke-width="1.1"/>
<text transform="translate(141.15,394.8) rotate(-90)" font-size="9.6" fill="#4d4d4d" text-anchor="end">paleturquoise</text>
<rect x="151.10" y="378.70" width="26.50" height="10.50" fill="#6CA6CD" stroke="#555" stroke-width="0.6"/>
<line x1="164.35" y1="389.20" x2="164.35" y2="392.30" stroke="#222" stroke-width="1.1"/>
<text transform="translate(167.65,394.8) rotate(-90)" font-size="9.6" fill="#4d4d4d" text-anchor="end">skyblue3</text>
<rect x="177.60" y="378.70" width="26.50" height="10.50" fill="#698B69" stroke="#555" stroke-width="0.6"/>
<line x1="190.85" y1="389.20" x2="190.85" y2="392.30" stroke="#222" stroke-width="1.1"/>
<text transform="translate(194.15,394.8) rotate(-90)" font-size="9.6" fill="#4d4d4d" text-anchor="end">darkseagreen4</text>
<rect x="204.10" y="378.70" width="26.50" height="10.50" fill="#FFFFFF" stroke="#555" stroke-width="0.6"/>
<line x1="217.35" y1="389.20" x2="217.35" y2="392.30" stroke="#222" stroke-width="1.1"/>
<text transform="translate(220.65,394.8) rotate(-90)" font-size="9.6" fill="#4d4d4d" text-anchor="end">white</text>
<text x="126.2" y="488.6" font-size="11.7" fill="#000" text-anchor="end">Correlation</text>
<text x="126.2" y="501.6" font-size="11.7" fill="#000" text-anchor="end">value</text>
<defs><linearGradient id="cg" x1="0" x2="1" y1="0" y2="0"><stop offset="0.000" stop-color="#5DA081"/><stop offset="0.025" stop-color="#66A688"/><stop offset="0.050" stop-color="#6FAB8F"/><stop offset="0.075" stop-color="#78B096"/><stop offset="0.100" stop-color="#82B69D"/><stop offset="0.125" stop-color="#8BBBA5"/><stop offset="0.150" stop-color="#94C1AC"/><stop offset="0.175" stop-color="#9DC6B3"/><stop offset="0.200" stop-color="#A7CBBA"/><stop offset="0.225" stop-color="#B0D1C1"/><stop offset="0.250" stop-color="#B9D6C9"/><stop offset="0.275" stop-color="#C2DBD0"/><stop offset="0.300" stop-color="#CBE1D7"/><stop offset="0.325" stop-color="#D5E6DE"/><stop offset="0.350" stop-color="#DEECE5"/><stop offset="0.375" stop-color="#E7F1EC"/><stop offset="0.400" stop-color="#F0F6F4"/><stop offset="0.425" stop-color="#FAFCFB"/><stop offset="0.450" stop-color="#FEFDFC"/><stop offset="0.475" stop-color="#FDF8F4"/><stop offset="0.500" stop-color="#FCF3EC"/><stop offset="0.525" stop-color="#FAEFE4"/><stop offset="0.550" stop-color="#F9EADC"/><stop offset="0.575" stop-color="#F8E5D4"/><stop offset="0.600" stop-color="#F6E0CD"/><stop offset="0.625" stop-color="#F5DCC5"/><stop offset="0.650" stop-color="#F4D7BD"/><stop offset="0.675" stop-color="#F2D2B5"/><stop offset="0.700" stop-color="#F1CDAD"/><stop offset="0.725" stop-color="#F0C8A5"/><stop offset="0.750" stop-color="#EEC49E"/><stop offset="0.775" stop-color="#EDBF96"/><stop offset="0.800" stop-color="#ECBA8E"/><stop offset="0.825" stop-color="#EAB586"/><stop offset="0.850" stop-color="#E9B17E"/><stop offset="0.875" stop-color="#E8AC76"/><stop offset="0.900" stop-color="#E6A76E"/><stop offset="0.925" stop-color="#E5A267"/><stop offset="0.950" stop-color="#E49E5F"/><stop offset="0.975" stop-color="#E29957"/><stop offset="1.000" stop-color="#E1944F"/></linearGradient></defs>
<rect x="132.90" y="480.50" width="93.00" height="18.60" fill="url(#cg)"/>
<line x1="149.90" y1="480.50" x2="149.90" y2="484.20" stroke="#fff" stroke-width="0.7"/>
<line x1="149.90" y1="495.40" x2="149.90" y2="499.10" stroke="#fff" stroke-width="0.7"/>
<text transform="translate(149.90,511.9) scale(1,1.12)" font-size="9.6" fill="#1a1a1a" text-anchor="middle">−0.2</text>
<line x1="173.60" y1="480.50" x2="173.60" y2="484.20" stroke="#fff" stroke-width="0.7"/>
<line x1="173.60" y1="495.40" x2="173.60" y2="499.10" stroke="#fff" stroke-width="0.7"/>
<text transform="translate(173.60,511.9) scale(1,1.12)" font-size="9.6" fill="#1a1a1a" text-anchor="middle">0.0</text>
<line x1="197.30" y1="480.50" x2="197.30" y2="484.20" stroke="#fff" stroke-width="0.7"/>
<line x1="197.30" y1="495.40" x2="197.30" y2="499.10" stroke="#fff" stroke-width="0.7"/>
<text transform="translate(197.30,511.9) scale(1,1.12)" font-size="9.6" fill="#1a1a1a" text-anchor="middle">0.2</text>
<line x1="221.00" y1="480.50" x2="221.00" y2="484.20" stroke="#fff" stroke-width="0.7"/>
<line x1="221.00" y1="495.40" x2="221.00" y2="499.10" stroke="#fff" stroke-width="0.7"/>
<text transform="translate(221.00,511.9) scale(1,1.12)" font-size="9.6" fill="#1a1a1a" text-anchor="middle">0.4</text>
<text transform="translate(245.2,12.0) scale(1,1.1)" font-size="13.6" font-weight="bold" fill="#000">B</text>
<line x1="273.3" y1="430.70" x2="276.60" y2="430.70" stroke="#333" stroke-width="1.1"/>
<text transform="translate(271.2,434.40) scale(1,1.06)" font-size="9.6" fill="#4d4d4d" text-anchor="end">0.0</text>
<line x1="273.3" y1="289.40" x2="276.60" y2="289.40" stroke="#333" stroke-width="1.1"/>
<text transform="translate(271.2,293.10) scale(1,1.06)" font-size="9.6" fill="#4d4d4d" text-anchor="end">0.2</text>
<line x1="273.3" y1="148.10" x2="276.60" y2="148.10" stroke="#333" stroke-width="1.1"/>
<text transform="translate(271.2,151.80) scale(1,1.06)" font-size="9.6" fill="#4d4d4d" text-anchor="end">0.4</text>
<line x1="273.3" y1="6.80" x2="276.60" y2="6.80" stroke="#333" stroke-width="1.1"/>
<text transform="translate(271.2,10.50) scale(1,1.06)" font-size="9.6" fill="#4d4d4d" text-anchor="end">0.6</text>
<line x1="281.40" y1="447.20" x2="281.40" y2="450.7" stroke="#333" stroke-width="1.1"/>
<text transform="translate(281.40,460.0) scale(1,1.06)" font-size="9.6" fill="#4d4d4d" text-anchor="middle">0.3</text>
<line x1="367.80" y1="447.20" x2="367.80" y2="450.7" stroke="#333" stroke-width="1.1"/>
<text transform="translate(367.80,460.0) scale(1,1.06)" font-size="9.6" fill="#4d4d4d" text-anchor="middle">0.4</text>
<line x1="454.20" y1="447.20" x2="454.20" y2="450.7" stroke="#333" stroke-width="1.1"/>
<text transform="translate(454.20,460.0) scale(1,1.06)" font-size="9.6" fill="#4d4d4d" text-anchor="middle">0.5</text>
<line x1="540.60" y1="447.20" x2="540.60" y2="450.7" stroke="#333" stroke-width="1.1"/>
<text transform="translate(540.60,460.0) scale(1,1.06)" font-size="9.6" fill="#4d4d4d" text-anchor="middle">0.6</text>
<line x1="627.00" y1="447.20" x2="627.00" y2="450.7" stroke="#333" stroke-width="1.1"/>
<text transform="translate(627.00,460.0) scale(1,1.06)" font-size="9.6" fill="#4d4d4d" text-anchor="middle">0.7</text>
<text x="479.4" y="472.6" font-size="10.7" fill="#000" text-anchor="middle">Membership in 'white' module</text>
<text transform="translate(252.1,224.6) rotate(-90)" font-size="10.7" fill="#000" text-anchor="middle">Significance for PIQ</text>
<circle cx="402.00" cy="87.20" r="3.25" fill="#b3b3b3"/>
<circle cx="432.30" cy="138.10" r="3.25" fill="#b3b3b3"/>
<circle cx="486.60" cy="73.00" r="3.25" fill="#b3b3b3"/>
<circle cx="512.60" cy="61.80" r="3.25" fill="#b3b3b3"/>
<circle cx="497.90" cy="83.40" r="3.25" fill="#b3b3b3"/>
<circle cx="592.40" cy="22.10" r="3.25" fill="#b3b3b3"/>
<circle cx="586.30" cy="53.90" r="3.25" fill="#b3b3b3"/>
<circle cx="525.30" cy="96.40" r="3.25" fill="#b3b3b3"/>
<circle cx="532.30" cy="113.00" r="3.25" fill="#b3b3b3"/>
<circle cx="567.90" cy="111.70" r="3.25" fill="#b3b3b3"/>
<circle cx="519.40" cy="113.60" r="3.25" fill="#b3b3b3"/>
<circle cx="569.50" cy="130.50" r="3.25" fill="#b3b3b3"/>
<circle cx="557.60" cy="140.50" r="3.25" fill="#b3b3b3"/>
<circle cx="600.10" cy="134.50" r="3.25" fill="#b3b3b3"/>
<circle cx="539.30" cy="149.00" r="3.25" fill="#b3b3b3"/>
<circle cx="585.40" cy="164.20" r="3.25" fill="#b3b3b3"/>
<circle cx="606.90" cy="169.70" r="3.25" fill="#b3b3b3"/>
<circle cx="548.50" cy="187.50" r="3.25" fill="#b3b3b3"/>
<circle cx="614.30" cy="190.10" r="3.25" fill="#b3b3b3"/>
<circle cx="573.80" cy="190.60" r="3.25" fill="#b3b3b3"/>
<circle cx="548.50" cy="196.70" r="3.25" fill="#b3b3b3"/>
<circle cx="525.10" cy="162.20" r="3.25" fill="#b3b3b3"/>
<circle cx="454.30" cy="166.80" r="3.25" fill="#b3b3b3"/>
<circle cx="504.90" cy="163.00" r="3.25" fill="#b3b3b3"/>
<circle cx="468.50" cy="170.50" r="3.25" fill="#b3b3b3"/>
<circle cx="436.80" cy="197.40" r="3.25" fill="#b3b3b3"/>
<circle cx="454.30" cy="188.60" r="3.25" fill="#b3b3b3"/>
<circle cx="464.00" cy="216.60" r="3.25" fill="#b3b3b3"/>
<circle cx="510.70" cy="201.80" r="3.25" fill="#b3b3b3"/>
<circle cx="362.00" cy="197.70" r="3.25" fill="#b3b3b3"/>
<circle cx="360.40" cy="179.50" r="3.25" fill="#b3b3b3"/>
<circle cx="349.40" cy="202.80" r="3.25" fill="#b3b3b3"/>
<circle cx="326.00" cy="250.40" r="3.25" fill="#b3b3b3"/>
<circle cx="300.70" cy="289.50" r="3.25" fill="#b3b3b3"/>
<circle cx="312.50" cy="292.50" r="3.25" fill="#b3b3b3"/>
<circle cx="409.20" cy="299.40" r="3.25" fill="#646464"/>
<circle cx="457.80" cy="235.70" r="3.25" fill="#646464"/>
<circle cx="495.10" cy="220.10" r="3.25" fill="#b3b3b3"/>
<circle cx="472.00" cy="220.10" r="3.25" fill="#b3b3b3"/>
<circle cx="471.40" cy="256.50" r="3.25" fill="#b3b3b3"/>
<circle cx="403.00" cy="235.70" r="3.25" fill="#b3b3b3"/>
<circle cx="401.40" cy="242.50" r="3.25" fill="#b3b3b3"/>
<circle cx="408.20" cy="239.60" r="3.25" fill="#b3b3b3"/>
<circle cx="465.60" cy="249.90" r="3.25" fill="#b3b3b3"/>
<circle cx="428.60" cy="259.00" r="3.25" fill="#646464"/>
<circle cx="408.20" cy="262.30" r="3.25" fill="#b3b3b3"/>
<circle cx="417.90" cy="262.30" r="3.25" fill="#b3b3b3"/>
<circle cx="485.00" cy="265.80" r="3.25" fill="#b3b3b3"/>
<circle cx="487.40" cy="270.70" r="3.25" fill="#b3b3b3"/>
<circle cx="404.90" cy="281.40" r="3.25" fill="#b3b3b3"/>
<circle cx="459.70" cy="292.10" r="3.25" fill="#b3b3b3"/>
<circle cx="495.10" cy="279.80" r="3.25" fill="#b3b3b3"/>
<circle cx="517.90" cy="206.50" r="3.25" fill="#b3b3b3"/>
<circle cx="548.10" cy="217.20" r="3.25" fill="#b3b3b3"/>
<circle cx="536.40" cy="231.80" r="3.25" fill="#b3b3b3"/>
<circle cx="550.40" cy="232.80" r="3.25" fill="#b3b3b3"/>
<circle cx="552.00" cy="234.30" r="3.25" fill="#b3b3b3"/>
<circle cx="507.20" cy="239.20" r="3.25" fill="#b3b3b3"/>
<circle cx="525.30" cy="232.40" r="3.25" fill="#b3b3b3"/>
<circle cx="529.60" cy="234.70" r="3.25" fill="#b3b3b3"/>
<circle cx="603.70" cy="226.60" r="3.25" fill="#b3b3b3"/>
<circle cx="604.90" cy="230.80" r="3.25" fill="#b3b3b3"/>
<circle cx="575.70" cy="242.50" r="3.25" fill="#646464"/>
<circle cx="579.20" cy="248.30" r="3.25" fill="#b3b3b3"/>
<circle cx="600.80" cy="249.30" r="3.25" fill="#b3b3b3"/>
<circle cx="519.90" cy="245.40" r="3.25" fill="#b3b3b3"/>
<circle cx="525.10" cy="262.90" r="3.25" fill="#b3b3b3"/>
<circle cx="538.70" cy="277.50" r="3.25" fill="#b3b3b3"/>
<circle cx="646.70" cy="266.80" r="3.25" fill="#b3b3b3"/>
<circle cx="495.00" cy="279.50" r="3.25" fill="#b3b3b3"/>
<circle cx="506.30" cy="277.50" r="3.25" fill="#b3b3b3"/>
<circle cx="508.80" cy="280.40" r="3.25" fill="#b3b3b3"/>
<circle cx="530.60" cy="278.50" r="3.25" fill="#b3b3b3"/>
<circle cx="525.70" cy="281.40" r="3.25" fill="#b3b3b3"/>
<circle cx="525.10" cy="285.30" r="3.25" fill="#b3b3b3"/>
<circle cx="548.00" cy="278.90" r="3.25" fill="#b3b3b3"/>
<circle cx="606.60" cy="217.60" r="3.25" fill="#b3b3b3"/>
<circle cx="651.90" cy="213.90" r="3.25" fill="#b3b3b3"/>
<circle cx="642.80" cy="236.70" r="3.25" fill="#b3b3b3"/>
<circle cx="612.50" cy="242.10" r="3.25" fill="#b3b3b3"/>
<circle cx="662.00" cy="245.00" r="3.25" fill="#b3b3b3"/>
<circle cx="665.00" cy="276.10" r="3.25" fill="#b3b3b3"/>
<circle cx="579.20" cy="298.90" r="3.25" fill="#b3b3b3"/>
<circle cx="575.30" cy="298.50" r="3.25" fill="#b3b3b3"/>
<circle cx="525.10" cy="284.30" r="3.25" fill="#b3b3b3"/>
<circle cx="366.00" cy="297.90" r="3.25" fill="#b3b3b3"/>
<circle cx="348.00" cy="316.40" r="3.25" fill="#b3b3b3"/>
<circle cx="367.00" cy="316.40" r="3.25" fill="#b3b3b3"/>
<circle cx="404.70" cy="340.90" r="3.25" fill="#b3b3b3"/>
<circle cx="411.70" cy="315.60" r="3.25" fill="#b3b3b3"/>
<circle cx="433.50" cy="317.50" r="3.25" fill="#b3b3b3"/>
<circle cx="441.80" cy="297.50" r="3.25" fill="#b3b3b3"/>
<circle cx="447.70" cy="300.40" r="3.25" fill="#b3b3b3"/>
<circle cx="482.50" cy="315.00" r="3.25" fill="#b3b3b3"/>
<circle cx="482.10" cy="321.80" r="3.25" fill="#b3b3b3"/>
<circle cx="498.50" cy="308.50" r="3.25" fill="#b3b3b3"/>
<circle cx="498.90" cy="315.80" r="3.25" fill="#b3b3b3"/>
<circle cx="410.10" cy="332.50" r="3.25" fill="#b3b3b3"/>
<circle cx="450.40" cy="329.60" r="3.25" fill="#b3b3b3"/>
<circle cx="478.80" cy="330.60" r="3.25" fill="#b3b3b3"/>
<circle cx="410.70" cy="348.10" r="3.25" fill="#b3b3b3"/>
<circle cx="410.10" cy="351.00" r="3.25" fill="#b3b3b3"/>
<circle cx="387.80" cy="353.50" r="3.25" fill="#b3b3b3"/>
<circle cx="418.90" cy="353.50" r="3.25" fill="#b3b3b3"/>
<circle cx="455.80" cy="349.60" r="3.25" fill="#b3b3b3"/>
<circle cx="453.50" cy="353.90" r="3.25" fill="#b3b3b3"/>
<circle cx="462.70" cy="352.00" r="3.25" fill="#b3b3b3"/>
<circle cx="431.10" cy="357.40" r="3.25" fill="#b3b3b3"/>
<circle cx="411.10" cy="367.10" r="3.25" fill="#b3b3b3"/>
<circle cx="467.30" cy="372.00" r="3.25" fill="#b3b3b3"/>
<circle cx="385.50" cy="376.60" r="3.25" fill="#b3b3b3"/>
<circle cx="399.60" cy="386.60" r="3.25" fill="#b3b3b3"/>
<circle cx="395.40" cy="398.90" r="3.25" fill="#b3b3b3"/>
<circle cx="455.70" cy="398.00" r="3.25" fill="#b3b3b3"/>
<circle cx="471.10" cy="392.10" r="3.25" fill="#b3b3b3"/>
<circle cx="405.40" cy="408.20" r="3.25" fill="#b3b3b3"/>
<circle cx="440.40" cy="409.90" r="3.25" fill="#b3b3b3"/>
<circle cx="407.70" cy="417.50" r="3.25" fill="#b3b3b3"/>
<circle cx="412.40" cy="427.40" r="3.25" fill="#b3b3b3"/>
<circle cx="385.50" cy="426.20" r="3.25" fill="#b3b3b3"/>
<circle cx="467.10" cy="426.60" r="3.25" fill="#b3b3b3"/>
<circle cx="514.20" cy="427.10" r="3.25" fill="#646464"/>
<circle cx="519.80" cy="368.80" r="3.25" fill="#b3b3b3"/>
<circle cx="508.20" cy="352.30" r="3.25" fill="#b3b3b3"/>
<circle cx="594.00" cy="357.80" r="3.25" fill="#b3b3b3"/>
<circle cx="517.00" cy="330.20" r="3.25" fill="#b3b3b3"/>
<circle cx="523.80" cy="328.60" r="3.25" fill="#b3b3b3"/>
<circle cx="578.20" cy="348.50" r="3.25" fill="#b3b3b3"/>
<circle cx="508.20" cy="321.80" r="3.25" fill="#b3b3b3"/>
<circle cx="571.40" cy="327.10" r="3.25" fill="#b3b3b3"/>
<circle cx="505.70" cy="300.40" r="3.25" fill="#b3b3b3"/>
<circle cx="294.90" cy="370.50" r="3.25" fill="#b3b3b3"/>
<circle cx="318.00" cy="393.30" r="3.25" fill="#b3b3b3"/>
<line x1="399.00" y1="92.40" x2="402.00" y2="87.20" stroke="#333" stroke-width="0.95"/>
<line x1="486.50" y1="61.00" x2="486.60" y2="72.60" stroke="#000" stroke-width="1.3"/>
<line x1="516.90" y1="56.20" x2="512.70" y2="61.60" stroke="#000" stroke-width="1.3"/>
<line x1="493.70" y1="88.80" x2="497.80" y2="83.50" stroke="#000" stroke-width="1.3"/>
<line x1="589.60" y1="27.50" x2="592.50" y2="22.20" stroke="#000" stroke-width="1.3"/>
<line x1="590.60" y1="59.50" x2="586.30" y2="54.00" stroke="#000" stroke-width="1.3"/>
<line x1="535.50" y1="108.10" x2="532.30" y2="113.00" stroke="#333" stroke-width="0.95"/>
<line x1="571.00" y1="106.30" x2="567.90" y2="111.70" stroke="#333" stroke-width="0.95"/>
<line x1="516.50" y1="118.60" x2="519.40" y2="113.60" stroke="#333" stroke-width="0.95"/>
<line x1="573.50" y1="124.50" x2="569.50" y2="130.50" stroke="#333" stroke-width="0.95"/>
<line x1="554.50" y1="135.70" x2="557.60" y2="140.50" stroke="#333" stroke-width="0.95"/>
<line x1="608.50" y1="138.50" x2="600.10" y2="134.50" stroke="#333" stroke-width="0.95"/>
<line x1="534.20" y1="149.00" x2="539.30" y2="149.00" stroke="#333" stroke-width="0.95"/>
<line x1="581.00" y1="156.40" x2="585.40" y2="164.20" stroke="#333" stroke-width="0.95"/>
<line x1="609.50" y1="164.60" x2="606.90" y2="169.70" stroke="#333" stroke-width="0.95"/>
<line x1="557.00" y1="174.50" x2="548.50" y2="187.50" stroke="#333" stroke-width="0.95"/>
<line x1="618.50" y1="185.30" x2="614.30" y2="190.10" stroke="#333" stroke-width="0.95"/>
<line x1="578.60" y1="188.50" x2="573.80" y2="190.60" stroke="#333" stroke-width="0.95"/>
<line x1="545.20" y1="194.00" x2="548.50" y2="196.70" stroke="#333" stroke-width="0.95"/>
<line x1="522.50" y1="167.50" x2="525.10" y2="162.20" stroke="#333" stroke-width="0.95"/>
<line x1="447.00" y1="158.10" x2="454.30" y2="166.80" stroke="#333" stroke-width="0.95"/>
<line x1="501.50" y1="157.50" x2="504.90" y2="163.00" stroke="#333" stroke-width="0.95"/>
<line x1="432.50" y1="192.10" x2="436.80" y2="197.40" stroke="#333" stroke-width="0.95"/>
<line x1="469.00" y1="195.40" x2="464.00" y2="216.60" stroke="#333" stroke-width="0.95"/>
<line x1="506.00" y1="196.40" x2="510.70" y2="201.80" stroke="#333" stroke-width="0.95"/>
<line x1="366.50" y1="189.00" x2="362.00" y2="197.70" stroke="#333" stroke-width="0.95"/>
<line x1="346.00" y1="208.00" x2="349.40" y2="202.80" stroke="#333" stroke-width="0.95"/>
<line x1="301.00" y1="274.70" x2="300.70" y2="289.50" stroke="#333" stroke-width="0.95"/>
<line x1="402.00" y1="292.60" x2="409.20" y2="299.40" stroke="#333" stroke-width="0.95"/>
<line x1="449.50" y1="213.30" x2="457.80" y2="235.70" stroke="#333" stroke-width="0.95"/>
<line x1="492.00" y1="215.30" x2="495.10" y2="220.10" stroke="#333" stroke-width="0.95"/>
<line x1="474.00" y1="225.60" x2="472.00" y2="220.10" stroke="#333" stroke-width="0.95"/>
<line x1="447.70" y1="231.20" x2="471.40" y2="256.50" stroke="#333" stroke-width="0.95"/>
<line x1="396.50" y1="243.00" x2="403.00" y2="235.70" stroke="#333" stroke-width="0.95"/>
<line x1="410.00" y1="243.50" x2="408.20" y2="239.60" stroke="#333" stroke-width="0.95"/>
<line x1="460.30" y1="250.50" x2="465.60" y2="249.90" stroke="#333" stroke-width="0.95"/>
<line x1="402.40" y1="266.00" x2="408.20" y2="262.30" stroke="#333" stroke-width="0.95"/>
<line x1="433.50" y1="268.50" x2="417.90" y2="262.30" stroke="#333" stroke-width="0.95"/>
<line x1="482.10" y1="270.00" x2="487.40" y2="270.70" stroke="#333" stroke-width="0.95"/>
<line x1="413.00" y1="277.90" x2="404.90" y2="281.40" stroke="#333" stroke-width="0.95"/>
<line x1="455.50" y1="288.00" x2="459.70" y2="292.10" stroke="#333" stroke-width="0.95"/>
<line x1="553.90" y1="207.50" x2="548.10" y2="217.20" stroke="#333" stroke-width="0.95"/>
<line x1="531.00" y1="215.30" x2="536.40" y2="231.80" stroke="#333" stroke-width="0.95"/>
<line x1="510.00" y1="234.30" x2="507.20" y2="239.20" stroke="#333" stroke-width="0.95"/>
<line x1="529.60" y1="234.70" x2="531.00" y2="241.90" stroke="#333" stroke-width="0.95"/>
<line x1="547.70" y1="229.90" x2="554.90" y2="263.50" stroke="#333" stroke-width="0.95"/>
<line x1="550.40" y1="230.30" x2="551.50" y2="233.50" stroke="#333" stroke-width="0.95"/>
<line x1="598.60" y1="231.50" x2="603.70" y2="227.50" stroke="#333" stroke-width="0.95"/>
<line x1="579.20" y1="248.30" x2="590.00" y2="261.00" stroke="#333" stroke-width="0.95"/>
<line x1="539.00" y1="272.70" x2="538.70" y2="277.50" stroke="#333" stroke-width="0.95"/>
<line x1="609.50" y1="212.90" x2="606.60" y2="217.60" stroke="#333" stroke-width="0.95"/>
<line x1="655.00" y1="219.20" x2="651.90" y2="213.90" stroke="#333" stroke-width="0.95"/>
<line x1="617.50" y1="246.00" x2="612.50" y2="242.10" stroke="#333" stroke-width="0.95"/>
<line x1="653.90" y1="297.10" x2="665.00" y2="276.10" stroke="#333" stroke-width="0.95"/>
<line x1="584.90" y1="302.00" x2="579.20" y2="298.90" stroke="#333" stroke-width="0.95"/>
<line x1="582.70" y1="289.60" x2="576.50" y2="297.50" stroke="#333" stroke-width="0.95"/>
<line x1="532.90" y1="298.50" x2="525.10" y2="284.30" stroke="#333" stroke-width="0.95"/>
<line x1="352.40" y1="305.00" x2="366.00" y2="297.90" stroke="#333" stroke-width="0.95"/>
<line x1="400.00" y1="336.40" x2="404.70" y2="340.90" stroke="#333" stroke-width="0.95"/>
<line x1="430.00" y1="311.10" x2="433.50" y2="317.50" stroke="#333" stroke-width="0.95"/>
<line x1="447.70" y1="300.40" x2="456.00" y2="316.00" stroke="#333" stroke-width="0.95"/>
<line x1="482.10" y1="321.80" x2="488.00" y2="330.00" stroke="#333" stroke-width="0.95"/>
<line x1="450.40" y1="329.60" x2="455.00" y2="335.00" stroke="#333" stroke-width="0.95"/>
<line x1="478.80" y1="330.60" x2="485.00" y2="346.10" stroke="#333" stroke-width="0.95"/>
<line x1="410.10" y1="351.00" x2="405.50" y2="357.80" stroke="#333" stroke-width="0.95"/>
<line x1="411.10" y1="367.10" x2="415.00" y2="375.80" stroke="#333" stroke-width="0.95"/>
<line x1="465.00" y1="377.50" x2="467.30" y2="372.00" stroke="#333" stroke-width="0.95"/>
<line x1="402.00" y1="392.40" x2="399.60" y2="386.60" stroke="#333" stroke-width="0.95"/>
<line x1="385.50" y1="400.00" x2="395.40" y2="398.90" stroke="#333" stroke-width="0.95"/>
<line x1="440.40" y1="400.00" x2="455.70" y2="398.00" stroke="#333" stroke-width="0.95"/>
<line x1="472.50" y1="397.30" x2="471.10" y2="392.10" stroke="#333" stroke-width="0.95"/>
<line x1="381.10" y1="418.50" x2="405.40" y2="408.20" stroke="#333" stroke-width="0.95"/>
<line x1="437.00" y1="414.80" x2="440.40" y2="409.90" stroke="#333" stroke-width="0.95"/>
<line x1="395.00" y1="437.00" x2="407.70" y2="417.50" stroke="#333" stroke-width="0.95"/>
<line x1="351.70" y1="437.00" x2="385.50" y2="426.20" stroke="#333" stroke-width="0.95"/>
<line x1="469.50" y1="433.20" x2="467.10" y2="426.60" stroke="#333" stroke-width="0.95"/>
<line x1="531.30" y1="422.00" x2="514.20" y2="427.10" stroke="#333" stroke-width="0.95"/>
<line x1="455.80" y1="349.60" x2="498.40" y2="387.50" stroke="#333" stroke-width="0.95"/>
<line x1="462.70" y1="352.00" x2="479.20" y2="366.00" stroke="#333" stroke-width="0.95"/>
<line x1="514.40" y1="357.50" x2="508.20" y2="352.30" stroke="#333" stroke-width="0.95"/>
<line x1="597.00" y1="363.20" x2="594.00" y2="357.80" stroke="#333" stroke-width="0.95"/>
<line x1="526.30" y1="336.00" x2="523.80" y2="328.60" stroke="#333" stroke-width="0.95"/>
<line x1="575.00" y1="343.60" x2="578.20" y2="348.50" stroke="#333" stroke-width="0.95"/>
<line x1="517.50" y1="320.00" x2="508.20" y2="321.80" stroke="#333" stroke-width="0.95"/>
<line x1="509.00" y1="306.80" x2="505.70" y2="300.40" stroke="#333" stroke-width="0.95"/>
<line x1="293.00" y1="375.80" x2="294.90" y2="370.50" stroke="#333" stroke-width="0.95"/>
<line x1="322.00" y1="388.40" x2="318.00" y2="393.30" stroke="#333" stroke-width="0.95"/>
<line x1="380.80" y1="381.50" x2="385.50" y2="376.60" stroke="#333" stroke-width="0.95"/>
<line x1="503.40" y1="274.20" x2="514.00" y2="288.20" stroke="#333" stroke-width="0.95"/>
<rect x="374.40" y="92.80" width="36.70" height="10.10" rx="2" fill="#fff" fill-opacity="0.55" stroke="#8c8c8c" stroke-width="0.8"/>
<text x="392.75" y="99.75" font-size="4.6" fill="#b0b0b0" text-anchor="middle" textLength="29.30" lengthAdjust="spacingAndGlyphs">GPR98;GPR98</text>
<rect x="428.80" y="55.70" width="57.40" height="12.00" rx="2" fill="#fff" stroke="#000" stroke-width="1.0"/>
<text x="457.50" y="64.70" font-size="8.3" fill="#000" stroke="#000" stroke-width="0.18" text-anchor="middle" textLength="49.40" lengthAdjust="spacingAndGlyphs">TRAK1;TRAK1</text>
<rect x="494.80" y="44.30" width="57.50" height="11.10" rx="2" fill="#fff" stroke="#000" stroke-width="1.0"/>
<text x="523.55" y="52.85" font-size="8.3" fill="#000" stroke="#000" stroke-width="0.18" text-anchor="middle" textLength="49.50" lengthAdjust="spacingAndGlyphs">TRAK1;TRAK1</text>
<rect x="458.80" y="89.10" width="57.20" height="12.20" rx="2" fill="#fff" stroke="#000" stroke-width="1.0"/>
<text x="487.40" y="98.20" font-size="8.3" fill="#000" stroke="#000" stroke-width="0.18" text-anchor="middle" textLength="49.20" lengthAdjust="spacingAndGlyphs">TRAK1;TRAK1</text>
<rect x="560.00" y="27.80" width="57.60" height="12.40" rx="2" fill="#fff" stroke="#000" stroke-width="1.0"/>
<text x="588.80" y="37.00" font-size="8.3" fill="#000" stroke="#000" stroke-width="0.18" text-anchor="middle" textLength="49.60" lengthAdjust="spacingAndGlyphs">TRAK1;TRAK1</text>
<rect x="567.90" y="59.80" width="57.30" height="12.40" rx="2" fill="#fff" stroke="#000" stroke-width="1.0"/>
<text x="596.55" y="69.00" font-size="8.3" fill="#000" stroke="#000" stroke-width="0.18" text-anchor="middle" textLength="49.30" lengthAdjust="spacingAndGlyphs">TRAK1;TRAK1</text>
<rect x="531.00" y="98.00" width="23.40" height="9.70" rx="2" fill="#fff" fill-opacity="0.55" stroke="#8c8c8c" stroke-width="0.8"/>
<text x="542.70" y="104.75" font-size="4.6" fill="#b0b0b0" text-anchor="middle" textLength="16.00" lengthAdjust="spacingAndGlyphs">FGFBP2</text>
<rect x="567.40" y="96.60" width="20.80" height="9.30" rx="2" fill="#fff" fill-opacity="0.55" stroke="#8c8c8c" stroke-width="0.8"/>
<text x="577.80" y="103.15" font-size="4.6" fill="#b0b0b0" text-anchor="middle" textLength="13.40" lengthAdjust="spacingAndGlyphs">FARP2</text>
<rect x="497.00" y="119.00" width="25.80" height="9.90" rx="2" fill="#fff" fill-opacity="0.55" stroke="#8c8c8c" stroke-width="0.8"/>
<text x="509.90" y="125.85" font-size="4.6" fill="#b0b0b0" text-anchor="middle" textLength="18.40" lengthAdjust="spacingAndGlyphs">CBFA2T3</text>
<rect x="573.20" y="115.60" width="39.60" height="9.90" rx="2" fill="#fff" fill-opacity="0.55" stroke="#8c8c8c" stroke-width="0.8"/>
<text x="593.00" y="122.45" font-size="4.6" fill="#b0b0b0" text-anchor="middle" textLength="32.20" lengthAdjust="spacingAndGlyphs">LAT;LAT;LAT;LAT</text>
<rect x="537.70" y="125.40" width="21.20" height="9.90" rx="2" fill="#fff" fill-opacity="0.55" stroke="#8c8c8c" stroke-width="0.8"/>
<text x="548.30" y="132.25" font-size="4.6" fill="#b0b0b0" text-anchor="middle" textLength="13.80" lengthAdjust="spacingAndGlyphs">PEBP4</text>
<rect x="608.90" y="134.10" width="43.40" height="10.30" rx="2" fill="#fff" fill-opacity="0.55" stroke="#8c8c8c" stroke-width="0.8"/>
<text x="630.60" y="141.15" font-size="4.6" fill="#b0b0b0" text-anchor="middle" textLength="36.00" lengthAdjust="spacingAndGlyphs">C6orf105;C6orf105</text>
<rect x="515.80" y="143.60" width="18.00" height="10.50" rx="2" fill="#fff" fill-opacity="0.55" stroke="#8c8c8c" stroke-width="0.8"/>
<text x="524.80" y="150.75" font-size="4.6" fill="#b0b0b0" text-anchor="middle" textLength="10.60" lengthAdjust="spacingAndGlyphs">UBS1</text>
<rect x="562.90" y="145.70" width="37.70" height="10.30" rx="2" fill="#fff" fill-opacity="0.55" stroke="#8c8c8c" stroke-width="0.8"/>
<text x="581.75" y="152.75" font-size="4.6" fill="#b0b0b0" text-anchor="middle" textLength="30.30" lengthAdjust="spacingAndGlyphs">RBMS1;RBMS1</text>
<rect x="608.90" y="154.50" width="20.60" height="9.70" rx="2" fill="#fff" fill-opacity="0.55" stroke="#8c8c8c" stroke-width="0.8"/>
<text x="619.20" y="161.25" font-size="4.6" fill="#b0b0b0" text-anchor="middle" textLength="13.20" lengthAdjust="spacingAndGlyphs">PEBP6</text>
<rect x="542.70" y="164.20" width="35.90" height="9.90" rx="2" fill="#fff" fill-opacity="0.55" stroke="#8c8c8c" stroke-width="0.8"/>
<text x="560.65" y="171.05" font-size="4.6" fill="#b0b0b0" text-anchor="middle" textLength="28.50" lengthAdjust="spacingAndGlyphs">FOXP1;FOXP1</text>
<rect x="611.80" y="175.00" width="29.40" height="9.90" rx="2" fill="#fff" fill-opacity="0.55" stroke="#8c8c8c" stroke-width="0.8"/>
<text x="626.50" y="181.85" font-size="4.6" fill="#b0b0b0" text-anchor="middle" textLength="22.00" lengthAdjust="spacingAndGlyphs">ICOS;ICOS</text>
<rect x="579.00" y="182.70" width="20.00" height="10.20" rx="2" fill="#fff" fill-opacity="0.55" stroke="#8c8c8c" stroke-width="0.8"/>
<text x="589.00" y="189.70" font-size="4.6" fill="#b0b0b0" text-anchor="middle" textLength="12.60" lengthAdjust="spacingAndGlyphs">STY24</text>
<rect x="524.20" y="186.00" width="20.60" height="10.30" rx="2" fill="#fff" fill-opacity="0.55" stroke="#8c8c8c" stroke-width="0.8"/>
<text x="534.50" y="193.05" font-size="4.6" fill="#b0b0b0" text-anchor="middle" textLength="13.20" lengthAdjust="spacingAndGlyphs">PEBP4</text>
<rect x="397.00" y="147.80" width="76.90" height="9.90" rx="2" fill="#fff" fill-opacity="0.55" stroke="#8c8c8c" stroke-width="0.8"/>
<text x="435.45" y="154.65" font-size="4.6" fill="#b0b0b0" text-anchor="middle" textLength="69.50" lengthAdjust="spacingAndGlyphs">ANGPT2;ANGPT2;ANGPT2;MCPH1</text>
<rect x="486.40" y="147.20" width="21.00" height="9.90" rx="2" fill="#fff" fill-opacity="0.55" stroke="#8c8c8c" stroke-width="0.8"/>
<text x="496.90" y="154.05" font-size="4.6" fill="#b0b0b0" text-anchor="middle" textLength="13.60" lengthAdjust="spacingAndGlyphs">PEBP4</text>
<rect x="448.90" y="166.30" width="62.40" height="10.30" rx="2" fill="#fff" fill-opacity="0.55" stroke="#8c8c8c" stroke-width="0.8"/>
<text x="480.10" y="173.35" font-size="4.6" fill="#b0b0b0" text-anchor="middle" textLength="55.00" lengthAdjust="spacingAndGlyphs">NFAT5;NFAT5;NFAT5;NFAT5</text>
<rect x="500.80" y="167.90" width="34.30" height="9.50" rx="2" fill="#fff" fill-opacity="0.55" stroke="#8c8c8c" stroke-width="0.8"/>
<text x="517.95" y="174.55" font-size="4.6" fill="#b0b0b0" text-anchor="middle" textLength="26.90" lengthAdjust="spacingAndGlyphs">NFAT5;ZNF711</text>
<rect x="416.80" y="181.80" width="21.00" height="9.90" rx="2" fill="#fff" fill-opacity="0.55" stroke="#8c8c8c" stroke-width="0.8"/>
<text x="427.30" y="188.65" font-size="4.6" fill="#b0b0b0" text-anchor="middle" textLength="13.60" lengthAdjust="spacingAndGlyphs">MAST3</text>
<rect x="455.70" y="184.70" width="28.70" height="10.30" rx="2" fill="#fff" fill-opacity="0.55" stroke="#8c8c8c" stroke-width="0.8"/>
<text x="470.05" y="191.75" font-size="4.6" fill="#b0b0b0" text-anchor="middle" textLength="21.30" lengthAdjust="spacingAndGlyphs">ICOS;ICOS</text>
<rect x="485.80" y="185.50" width="28.40" height="10.50" rx="2" fill="#fff" fill-opacity="0.55" stroke="#8c8c8c" stroke-width="0.8"/>
<text x="500.00" y="192.65" font-size="4.6" fill="#b0b0b0" text-anchor="middle" textLength="21.00" lengthAdjust="spacingAndGlyphs">CD96;CD96</text>
<rect x="365.90" y="182.60" width="25.40" height="10.00" rx="2" fill="#fff" fill-opacity="0.55" stroke="#8c8c8c" stroke-width="0.8"/>
<text x="378.60" y="189.50" font-size="4.6" fill="#b0b0b0" text-anchor="middle" textLength="18.00" lengthAdjust="spacingAndGlyphs">SERPINC2</text>
<rect x="329.70" y="208.40" width="20.40" height="9.90" rx="2" fill="#fff" fill-opacity="0.55" stroke="#8c8c8c" stroke-width="0.8"/>
<text x="339.90" y="215.25" font-size="4.6" fill="#b0b0b0" text-anchor="middle" textLength="13.00" lengthAdjust="spacingAndGlyphs">NHSL1</text>
<rect x="280.70" y="263.90" width="41.20" height="10.40" rx="2" fill="#fff" fill-opacity="0.55" stroke="#8c8c8c" stroke-width="0.8"/>
<text x="301.30" y="271.00" font-size="4.6" fill="#b0b0b0" text-anchor="middle" textLength="33.80" lengthAdjust="spacingAndGlyphs">FAHD2A;FAHD2A</text>
<rect x="314.30" y="282.70" width="105.80" height="9.50" rx="2" fill="#fff" fill-opacity="0.55" stroke="#8c8c8c" stroke-width="0.8"/>
<text x="367.20" y="289.35" font-size="4.6" fill="#b0b0b0" text-anchor="middle" textLength="98.40" lengthAdjust="spacingAndGlyphs">KLHL13;KLHL13;KLHL13;KLHL13;KLHL13</text>
<rect x="436.80" y="203.00" width="22.50" height="9.90" rx="2" fill="#fff" fill-opacity="0.55" stroke="#8c8c8c" stroke-width="0.8"/>
<text x="448.05" y="209.85" font-size="4.6" fill="#b0b0b0" text-anchor="middle" textLength="15.10" lengthAdjust="spacingAndGlyphs">CXorf36</text>
<rect x="470.20" y="205.60" width="34.70" height="9.30" rx="2" fill="#fff" fill-opacity="0.55" stroke="#8c8c8c" stroke-width="0.8"/>
<text x="487.55" y="212.15" font-size="4.6" fill="#b0b0b0" text-anchor="middle" textLength="27.30" lengthAdjust="spacingAndGlyphs">CD79A;CD79A</text>
<rect x="456.20" y="226.00" width="35.80" height="9.90" rx="2" fill="#fff" fill-opacity="0.55" stroke="#8c8c8c" stroke-width="0.8"/>
<text x="474.10" y="232.85" font-size="4.6" fill="#b0b0b0" text-anchor="middle" textLength="28.40" lengthAdjust="spacingAndGlyphs">CD79A;CD79A</text>
<rect x="390.50" y="221.10" width="56.80" height="9.70" rx="2" fill="#fff" fill-opacity="0.55" stroke="#8c8c8c" stroke-width="0.8"/>
<text x="418.90" y="227.85" font-size="4.6" fill="#b0b0b0" text-anchor="middle" textLength="49.40" lengthAdjust="spacingAndGlyphs">NPTN;NPTN;NPTN;NPTN</text>
<rect x="378.90" y="240.00" width="17.20" height="8.90" rx="2" fill="#fff" fill-opacity="0.55" stroke="#8c8c8c" stroke-width="0.8"/>
<text x="387.50" y="246.35" font-size="4.6" fill="#b0b0b0" text-anchor="middle" textLength="9.80" lengthAdjust="spacingAndGlyphs">BCL6</text>
<rect x="409.20" y="243.90" width="19.60" height="9.90" rx="2" fill="#fff" fill-opacity="0.55" stroke="#8c8c8c" stroke-width="0.8"/>
<text x="419.00" y="250.75" font-size="4.6" fill="#b0b0b0" text-anchor="middle" textLength="12.20" lengthAdjust="spacingAndGlyphs">S100B</text>
<rect x="439.30" y="245.40" width="20.60" height="9.70" rx="2" fill="#fff" fill-opacity="0.55" stroke="#8c8c8c" stroke-width="0.8"/>
<text x="449.60" y="252.15" font-size="4.6" fill="#b0b0b0" text-anchor="middle" textLength="13.20" lengthAdjust="spacingAndGlyphs">ZNRF2</text>
<rect x="381.40" y="262.90" width="20.60" height="9.90" rx="2" fill="#fff" fill-opacity="0.55" stroke="#8c8c8c" stroke-width="0.8"/>
<text x="391.70" y="269.75" font-size="4.6" fill="#b0b0b0" text-anchor="middle" textLength="13.20" lengthAdjust="spacingAndGlyphs">SCN9A</text>
<rect x="433.90" y="264.30" width="23.50" height="9.50" rx="2" fill="#fff" fill-opacity="0.55" stroke="#8c8c8c" stroke-width="0.8"/>
<text x="445.65" y="270.95" font-size="4.6" fill="#b0b0b0" text-anchor="middle" textLength="16.10" lengthAdjust="spacingAndGlyphs">C10orf25</text>
<rect x="456.20" y="264.30" width="25.50" height="9.50" rx="2" fill="#fff" fill-opacity="0.55" stroke="#8c8c8c" stroke-width="0.8"/>
<text x="468.95" y="270.95" font-size="4.6" fill="#b0b0b0" text-anchor="middle" textLength="18.10" lengthAdjust="spacingAndGlyphs">CYP27C1</text>
<rect x="489.70" y="263.90" width="16.50" height="9.70" rx="2" fill="#fff" fill-opacity="0.55" stroke="#8c8c8c" stroke-width="0.8"/>
<text x="497.95" y="270.65" font-size="4.6" fill="#b0b0b0" text-anchor="middle" textLength="9.10" lengthAdjust="spacingAndGlyphs">FAT3</text>
<rect x="411.10" y="267.80" width="15.80" height="9.70" rx="2" fill="#fff" fill-opacity="0.55" stroke="#8c8c8c" stroke-width="0.8"/>
<text x="419.00" y="274.55" font-size="4.6" fill="#b0b0b0" text-anchor="middle" textLength="8.40" lengthAdjust="spacingAndGlyphs">IPFR</text>
<rect x="432.90" y="282.20" width="22.20" height="10.00" rx="2" fill="#fff" fill-opacity="0.55" stroke="#8c8c8c" stroke-width="0.8"/>
<text x="444.00" y="289.10" font-size="4.6" fill="#b0b0b0" text-anchor="middle" textLength="14.80" lengthAdjust="spacingAndGlyphs">ARHGEF</text>
<rect x="473.70" y="283.90" width="26.30" height="9.70" rx="2" fill="#fff" fill-opacity="0.55" stroke="#8c8c8c" stroke-width="0.8"/>
<text x="486.85" y="290.65" font-size="4.6" fill="#b0b0b0" text-anchor="middle" textLength="18.90" lengthAdjust="spacingAndGlyphs">SPPWR2</text>
<rect x="480.60" y="289.20" width="72.50" height="9.30" rx="2" fill="#fff" fill-opacity="0.55" stroke="#8c8c8c" stroke-width="0.8"/>
<text x="516.85" y="295.75" font-size="4.6" fill="#b0b0b0" text-anchor="middle" textLength="65.10" lengthAdjust="spacingAndGlyphs">LPAR6;PAWLL;PAWL;LPAR6</text>
<rect x="517.70" y="205.00" width="20.20" height="9.90" rx="2" fill="#fff" fill-opacity="0.55" stroke="#8c8c8c" stroke-width="0.8"/>
<text x="527.80" y="211.85" font-size="4.6" fill="#b0b0b0" text-anchor="middle" textLength="12.80" lengthAdjust="spacingAndGlyphs">STK24</text>
<rect x="553.90" y="201.70" width="20.40" height="9.30" rx="2" fill="#fff" fill-opacity="0.55" stroke="#8c8c8c" stroke-width="0.8"/>
<text x="564.10" y="208.25" font-size="4.6" fill="#b0b0b0" text-anchor="middle" textLength="13.00" lengthAdjust="spacingAndGlyphs">STAP1</text>
<rect x="530.00" y="220.20" width="24.10" height="9.70" rx="2" fill="#fff" fill-opacity="0.55" stroke="#8c8c8c" stroke-width="0.8"/>
<text x="542.05" y="226.95" font-size="4.6" fill="#b0b0b0" text-anchor="middle" textLength="16.70" lengthAdjust="spacingAndGlyphs">ST6GAL1</text>
<rect x="497.90" y="224.00" width="23.90" height="9.90" rx="2" fill="#fff" fill-opacity="0.55" stroke="#8c8c8c" stroke-width="0.8"/>
<text x="509.85" y="230.85" font-size="4.6" fill="#b0b0b0" text-anchor="middle" textLength="16.50" lengthAdjust="spacingAndGlyphs">ACSBG1</text>
<rect x="530.00" y="242.30" width="27.40" height="9.90" rx="2" fill="#fff" fill-opacity="0.55" stroke="#8c8c8c" stroke-width="0.8"/>
<text x="543.70" y="249.15" font-size="4.6" fill="#b0b0b0" text-anchor="middle" textLength="20.00" lengthAdjust="spacingAndGlyphs">PTPRCAP</text>
<rect x="577.60" y="227.40" width="20.60" height="9.80" rx="2" fill="#fff" fill-opacity="0.55" stroke="#8c8c8c" stroke-width="0.8"/>
<text x="587.90" y="234.20" font-size="4.6" fill="#b0b0b0" text-anchor="middle" textLength="13.20" lengthAdjust="spacingAndGlyphs">PARCS</text>
<rect x="502.80" y="247.80" width="19.20" height="9.80" rx="2" fill="#fff" fill-opacity="0.55" stroke="#8c8c8c" stroke-width="0.8"/>
<text x="512.40" y="254.60" font-size="4.6" fill="#b0b0b0" text-anchor="middle" textLength="11.80" lengthAdjust="spacingAndGlyphs">NRTN</text>
<rect x="531.00" y="262.40" width="16.30" height="9.90" rx="2" fill="#fff" fill-opacity="0.55" stroke="#8c8c8c" stroke-width="0.8"/>
<text x="539.15" y="269.25" font-size="4.6" fill="#b0b0b0" text-anchor="middle" textLength="8.90" lengthAdjust="spacingAndGlyphs">IRF8</text>
<rect x="553.30" y="263.90" width="25.90" height="8.90" rx="2" fill="#fff" fill-opacity="0.55" stroke="#8c8c8c" stroke-width="0.8"/>
<text x="566.25" y="270.25" font-size="4.6" fill="#b0b0b0" text-anchor="middle" textLength="18.50" lengthAdjust="spacingAndGlyphs">PLEKHF1</text>
<rect x="575.70" y="261.40" width="71.60" height="9.50" rx="2" fill="#fff" fill-opacity="0.55" stroke="#8c8c8c" stroke-width="0.8"/>
<text x="611.50" y="268.05" font-size="4.6" fill="#b0b0b0" text-anchor="middle" textLength="64.20" lengthAdjust="spacingAndGlyphs">PDLIM1;PDLIM1;PDLIM1;PDLIM1</text>
<rect x="568.90" y="279.90" width="50.90" height="9.30" rx="2" fill="#fff" fill-opacity="0.55" stroke="#8c8c8c" stroke-width="0.8"/>
<text x="594.35" y="286.45" font-size="4.6" fill="#b0b0b0" text-anchor="middle" textLength="43.50" lengthAdjust="spacingAndGlyphs">EVI2A;EVI2A;NF1;NF1</text>
<rect x="600.80" y="202.50" width="30.30" height="10.00" rx="2" fill="#fff" fill-opacity="0.55" stroke="#8c8c8c" stroke-width="0.8"/>
<text x="615.95" y="209.40" font-size="4.6" fill="#b0b0b0" text-anchor="middle" textLength="22.90" lengthAdjust="spacingAndGlyphs">CD66;CD66</text>
<rect x="651.00" y="219.60" width="21.00" height="10.40" rx="2" fill="#fff" fill-opacity="0.55" stroke="#8c8c8c" stroke-width="0.8"/>
<text x="661.50" y="226.70" font-size="4.6" fill="#b0b0b0" text-anchor="middle" textLength="13.60" lengthAdjust="spacingAndGlyphs">CRLF3</text>
<rect x="617.90" y="242.50" width="21.00" height="9.70" rx="2" fill="#fff" fill-opacity="0.55" stroke="#8c8c8c" stroke-width="0.8"/>
<text x="628.40" y="249.25" font-size="4.6" fill="#b0b0b0" text-anchor="middle" textLength="13.60" lengthAdjust="spacingAndGlyphs">ARAP2</text>
<rect x="624.70" y="297.50" width="54.50" height="9.90" rx="2" fill="#fff" fill-opacity="0.55" stroke="#8c8c8c" stroke-width="0.8"/>
<text x="651.95" y="304.35" font-size="4.6" fill="#b0b0b0" text-anchor="middle" textLength="47.10" lengthAdjust="spacingAndGlyphs">LOC152510;LOC152510</text>
<rect x="585.30" y="297.90" width="21.50" height="9.90" rx="2" fill="#fff" fill-opacity="0.55" stroke="#8c8c8c" stroke-width="0.8"/>
<text x="596.05" y="304.75" font-size="4.6" fill="#b0b0b0" text-anchor="middle" textLength="14.10" lengthAdjust="spacingAndGlyphs">GFAP2</text>
<rect x="533.30" y="296.90" width="43.50" height="9.50" rx="2" fill="#fff" fill-opacity="0.55" stroke="#8c8c8c" stroke-width="0.8"/>
<text x="555.05" y="303.55" font-size="4.6" fill="#b0b0b0" text-anchor="middle" textLength="36.10" lengthAdjust="spacingAndGlyphs">UMODL1;UMODL1</text>
<rect x="331.80" y="300.80" width="20.20" height="9.90" rx="2" fill="#fff" fill-opacity="0.55" stroke="#8c8c8c" stroke-width="0.8"/>
<text x="341.90" y="307.65" font-size="4.6" fill="#b0b0b0" text-anchor="middle" textLength="12.80" lengthAdjust="spacingAndGlyphs">HSPA4</text>
<rect x="361.00" y="301.40" width="47.80" height="9.70" rx="2" fill="#fff" fill-opacity="0.55" stroke="#8c8c8c" stroke-width="0.8"/>
<text x="384.90" y="308.15" font-size="4.6" fill="#b0b0b0" text-anchor="middle" textLength="40.40" lengthAdjust="spacingAndGlyphs">CDK5;CDK5;SLC4A2</text>
<rect x="332.80" y="325.70" width="68.20" height="10.30" rx="2" fill="#fff" fill-opacity="0.55" stroke="#8c8c8c" stroke-width="0.8"/>
<text x="366.90" y="332.75" font-size="4.6" fill="#b0b0b0" text-anchor="middle" textLength="60.80" lengthAdjust="spacingAndGlyphs">ZCCHC11;ZCCHC11;ZCCHC11</text>
<rect x="405.70" y="300.80" width="41.00" height="9.90" rx="2" fill="#fff" fill-opacity="0.55" stroke="#8c8c8c" stroke-width="0.8"/>
<text x="426.20" y="307.65" font-size="4.6" fill="#b0b0b0" text-anchor="middle" textLength="33.60" lengthAdjust="spacingAndGlyphs">FBXO16;FBXO16</text>
<rect x="450.00" y="316.40" width="15.20" height="9.90" rx="2" fill="#fff" fill-opacity="0.55" stroke="#8c8c8c" stroke-width="0.8"/>
<text x="457.60" y="323.25" font-size="4.6" fill="#b0b0b0" text-anchor="middle" textLength="7.80" lengthAdjust="spacingAndGlyphs">LCK</text>
<rect x="462.70" y="300.20" width="19.40" height="9.90" rx="2" fill="#fff" fill-opacity="0.55" stroke="#8c8c8c" stroke-width="0.8"/>
<text x="472.40" y="307.05" font-size="4.6" fill="#b0b0b0" text-anchor="middle" textLength="12.00" lengthAdjust="spacingAndGlyphs">AXIN2</text>
<rect x="488.20" y="327.70" width="21.00" height="9.90" rx="2" fill="#fff" fill-opacity="0.55" stroke="#8c8c8c" stroke-width="0.8"/>
<text x="498.70" y="334.55" font-size="4.6" fill="#b0b0b0" text-anchor="middle" textLength="13.60" lengthAdjust="spacingAndGlyphs">KIF26B</text>
<rect x="410.00" y="320.90" width="21.10" height="9.70" rx="2" fill="#fff" fill-opacity="0.55" stroke="#8c8c8c" stroke-width="0.8"/>
<text x="420.55" y="327.65" font-size="4.6" fill="#b0b0b0" text-anchor="middle" textLength="13.70" lengthAdjust="spacingAndGlyphs">WNT11</text>
<rect x="413.10" y="339.30" width="48.20" height="9.70" rx="2" fill="#fff" fill-opacity="0.55" stroke="#8c8c8c" stroke-width="0.8"/>
<text x="437.20" y="346.05" font-size="4.6" fill="#b0b0b0" text-anchor="middle" textLength="40.80" lengthAdjust="spacingAndGlyphs">SPIN1;SPIN1;SPIN1</text>
<rect x="453.90" y="335.40" width="20.40" height="9.70" rx="2" fill="#fff" fill-opacity="0.55" stroke="#8c8c8c" stroke-width="0.8"/>
<text x="464.10" y="342.15" font-size="4.6" fill="#b0b0b0" text-anchor="middle" textLength="13.00" lengthAdjust="spacingAndGlyphs">TAX1L</text>
<rect x="467.30" y="346.50" width="37.60" height="9.70" rx="2" fill="#fff" fill-opacity="0.55" stroke="#8c8c8c" stroke-width="0.8"/>
<text x="486.10" y="353.25" font-size="4.6" fill="#b0b0b0" text-anchor="middle" textLength="30.20" lengthAdjust="spacingAndGlyphs">TRIM15;TRIM15</text>
<rect x="387.20" y="358.20" width="19.60" height="9.90" rx="2" fill="#fff" fill-opacity="0.55" stroke="#8c8c8c" stroke-width="0.8"/>
<text x="397.00" y="365.05" font-size="4.6" fill="#b0b0b0" text-anchor="middle" textLength="12.20" lengthAdjust="spacingAndGlyphs">HSPA4</text>
<rect x="426.10" y="360.10" width="25.50" height="9.50" rx="2" fill="#fff" fill-opacity="0.55" stroke="#8c8c8c" stroke-width="0.8"/>
<text x="438.85" y="366.75" font-size="4.6" fill="#b0b0b0" text-anchor="middle" textLength="18.10" lengthAdjust="spacingAndGlyphs">FLJ20404</text>
<rect x="450.40" y="359.20" width="19.60" height="9.90" rx="2" fill="#fff" fill-opacity="0.55" stroke="#8c8c8c" stroke-width="0.8"/>
<text x="460.20" y="366.05" font-size="4.6" fill="#b0b0b0" text-anchor="middle" textLength="12.20" lengthAdjust="spacingAndGlyphs">CPNE5</text>
<rect x="479.60" y="365.00" width="26.60" height="10.00" rx="2" fill="#fff" fill-opacity="0.55" stroke="#8c8c8c" stroke-width="0.8"/>
<text x="492.90" y="371.90" font-size="4.6" fill="#b0b0b0" text-anchor="middle" textLength="19.20" lengthAdjust="spacingAndGlyphs">TMEM88</text>
<rect x="408.80" y="376.20" width="24.20" height="10.00" rx="2" fill="#fff" fill-opacity="0.55" stroke="#8c8c8c" stroke-width="0.8"/>
<text x="420.90" y="383.10" font-size="4.6" fill="#b0b0b0" text-anchor="middle" textLength="16.80" lengthAdjust="spacingAndGlyphs">SCNN1A</text>
<rect x="441.70" y="377.90" width="38.30" height="9.70" rx="2" fill="#fff" fill-opacity="0.55" stroke="#8c8c8c" stroke-width="0.8"/>
<text x="460.85" y="384.65" font-size="4.6" fill="#b0b0b0" text-anchor="middle" textLength="30.90" lengthAdjust="spacingAndGlyphs">HIVEP3;HIVEP3</text>
<rect x="394.10" y="392.80" width="21.40" height="10.10" rx="2" fill="#fff" fill-opacity="0.55" stroke="#8c8c8c" stroke-width="0.8"/>
<text x="404.80" y="399.75" font-size="4.6" fill="#b0b0b0" text-anchor="middle" textLength="14.00" lengthAdjust="spacingAndGlyphs">HIVEP3</text>
<rect x="349.60" y="395.10" width="35.50" height="10.40" rx="2" fill="#fff" fill-opacity="0.55" stroke="#8c8c8c" stroke-width="0.8"/>
<text x="367.35" y="402.20" font-size="4.6" fill="#b0b0b0" text-anchor="middle" textLength="28.10" lengthAdjust="spacingAndGlyphs">LYPLA;LYPLA</text>
<rect x="422.40" y="394.90" width="17.60" height="9.90" rx="2" fill="#fff" fill-opacity="0.55" stroke="#8c8c8c" stroke-width="0.8"/>
<text x="431.20" y="401.75" font-size="4.6" fill="#b0b0b0" text-anchor="middle" textLength="10.20" lengthAdjust="spacingAndGlyphs">PTH2</text>
<rect x="471.80" y="397.70" width="17.60" height="9.70" rx="2" fill="#fff" fill-opacity="0.55" stroke="#8c8c8c" stroke-width="0.8"/>
<text x="480.60" y="404.45" font-size="4.6" fill="#b0b0b0" text-anchor="middle" textLength="10.20" lengthAdjust="spacingAndGlyphs">TLX1</text>
<rect x="329.80" y="413.50" width="50.90" height="10.40" rx="2" fill="#fff" fill-opacity="0.55" stroke="#8c8c8c" stroke-width="0.8"/>
<text x="355.25" y="420.60" font-size="4.6" fill="#b0b0b0" text-anchor="middle" textLength="43.50" lengthAdjust="spacingAndGlyphs">ACSF3;ACSF3;ACSF3</text>
<rect x="401.10" y="415.20" width="60.00" height="10.10" rx="2" fill="#fff" fill-opacity="0.55" stroke="#8c8c8c" stroke-width="0.8"/>
<text x="431.10" y="422.15" font-size="4.6" fill="#b0b0b0" text-anchor="middle" textLength="52.60" lengthAdjust="spacingAndGlyphs">PTPRN2;PTPRN2;PTPRN2</text>
<rect x="291.30" y="432.20" width="60.00" height="10.10" rx="2" fill="#fff" fill-opacity="0.55" stroke="#8c8c8c" stroke-width="0.8"/>
<text x="321.30" y="439.15" font-size="4.6" fill="#b0b0b0" text-anchor="middle" textLength="52.60" lengthAdjust="spacingAndGlyphs">PTPRN2;PTPRN2;PTPRN2</text>
<rect x="359.10" y="433.60" width="35.60" height="10.10" rx="2" fill="#fff" fill-opacity="0.55" stroke="#8c8c8c" stroke-width="0.8"/>
<text x="376.90" y="440.55" font-size="4.6" fill="#b0b0b0" text-anchor="middle" textLength="28.20" lengthAdjust="spacingAndGlyphs">CD226;CD226</text>
<rect x="469.70" y="433.60" width="53.70" height="10.10" rx="2" fill="#fff" fill-opacity="0.55" stroke="#8c8c8c" stroke-width="0.8"/>
<text x="496.55" y="440.55" font-size="4.6" fill="#b0b0b0" text-anchor="middle" textLength="46.30" lengthAdjust="spacingAndGlyphs">CYFIP2;CYFIP2;CYFIP2</text>
<rect x="531.70" y="416.90" width="77.30" height="10.10" rx="2" fill="#fff" fill-opacity="0.55" stroke="#8c8c8c" stroke-width="0.8"/>
<text x="570.35" y="423.85" font-size="4.6" fill="#b0b0b0" text-anchor="middle" textLength="69.90" lengthAdjust="spacingAndGlyphs">SH2D1A;SH2D1A;SH2D1A;SH2D1A</text>
<rect x="498.80" y="382.80" width="21.40" height="10.10" rx="2" fill="#fff" fill-opacity="0.55" stroke="#8c8c8c" stroke-width="0.8"/>
<text x="509.50" y="389.75" font-size="4.6" fill="#b0b0b0" text-anchor="middle" textLength="14.00" lengthAdjust="spacingAndGlyphs">PRR5</text>
<rect x="514.80" y="352.90" width="25.10" height="9.90" rx="2" fill="#fff" fill-opacity="0.55" stroke="#8c8c8c" stroke-width="0.8"/>
<text x="527.35" y="359.75" font-size="4.6" fill="#b0b0b0" text-anchor="middle" textLength="17.70" lengthAdjust="spacingAndGlyphs">SERPINC5</text>
<rect x="585.60" y="363.60" width="36.50" height="9.70" rx="2" fill="#fff" fill-opacity="0.55" stroke="#8c8c8c" stroke-width="0.8"/>
<text x="603.85" y="370.35" font-size="4.6" fill="#b0b0b0" text-anchor="middle" textLength="29.10" lengthAdjust="spacingAndGlyphs">RBM38;RBM38</text>
<rect x="526.70" y="334.50" width="20.40" height="9.70" rx="2" fill="#fff" fill-opacity="0.55" stroke="#8c8c8c" stroke-width="0.8"/>
<text x="536.90" y="341.25" font-size="4.6" fill="#b0b0b0" text-anchor="middle" textLength="13.00" lengthAdjust="spacingAndGlyphs">CD226</text>
<rect x="558.80" y="333.30" width="20.40" height="9.90" rx="2" fill="#fff" fill-opacity="0.55" stroke="#8c8c8c" stroke-width="0.8"/>
<text x="569.00" y="340.15" font-size="4.6" fill="#b0b0b0" text-anchor="middle" textLength="13.00" lengthAdjust="spacingAndGlyphs">CD226</text>
<rect x="517.90" y="315.40" width="58.90" height="9.50" rx="2" fill="#fff" fill-opacity="0.55" stroke="#8c8c8c" stroke-width="0.8"/>
<text x="547.35" y="322.05" font-size="4.6" fill="#b0b0b0" text-anchor="middle" textLength="51.50" lengthAdjust="spacingAndGlyphs">MAD1L1;MAD1L1;MAD1L1</text>
<rect x="504.10" y="307.20" width="27.00" height="9.70" rx="2" fill="#fff" fill-opacity="0.55" stroke="#8c8c8c" stroke-width="0.8"/>
<text x="517.60" y="313.95" font-size="4.6" fill="#b0b0b0" text-anchor="middle" textLength="19.60" lengthAdjust="spacingAndGlyphs">FHIT;FHIT</text>
<rect x="280.30" y="376.20" width="19.00" height="10.20" rx="2" fill="#fff" fill-opacity="0.55" stroke="#8c8c8c" stroke-width="0.8"/>
<text x="289.80" y="383.20" font-size="4.6" fill="#b0b0b0" text-anchor="middle" textLength="11.60" lengthAdjust="spacingAndGlyphs">PCNT</text>
<rect x="317.00" y="377.90" width="20.80" height="10.10" rx="2" fill="#fff" fill-opacity="0.55" stroke="#8c8c8c" stroke-width="0.8"/>
<text x="327.40" y="384.85" font-size="4.6" fill="#b0b0b0" text-anchor="middle" textLength="13.40" lengthAdjust="spacingAndGlyphs">STX10</text>
<rect x="360.80" y="376.70" width="19.60" height="10.10" rx="2" fill="#fff" fill-opacity="0.55" stroke="#8c8c8c" stroke-width="0.8"/>
<text x="370.60" y="383.65" font-size="4.6" fill="#b0b0b0" text-anchor="middle" textLength="12.20" lengthAdjust="spacingAndGlyphs">GUS1</text>
<rect x="276.60" y="2.50" width="406.60" height="444.70" fill="none" stroke="#333" stroke-width="1.1"/>
<rect x="284.6" y="10.6" width="79.6" height="47.6" fill="#fff" stroke="#333" stroke-width="1"/>
<text x="287.8" y="24.3" font-size="11.7" fill="#000">Chromosome</text>
<circle cx="299.5" cy="37.1" r="3.1" fill="#b3b3b3"/>
<circle cx="299.5" cy="49.9" r="3.1" fill="#666666"/>
<text x="314.8" y="40.3" font-size="9.7" fill="#000">autosomal</text>
<text x="314.8" y="53.0" font-size="9.7" fill="#000">X</text>
</svg></body></html>
